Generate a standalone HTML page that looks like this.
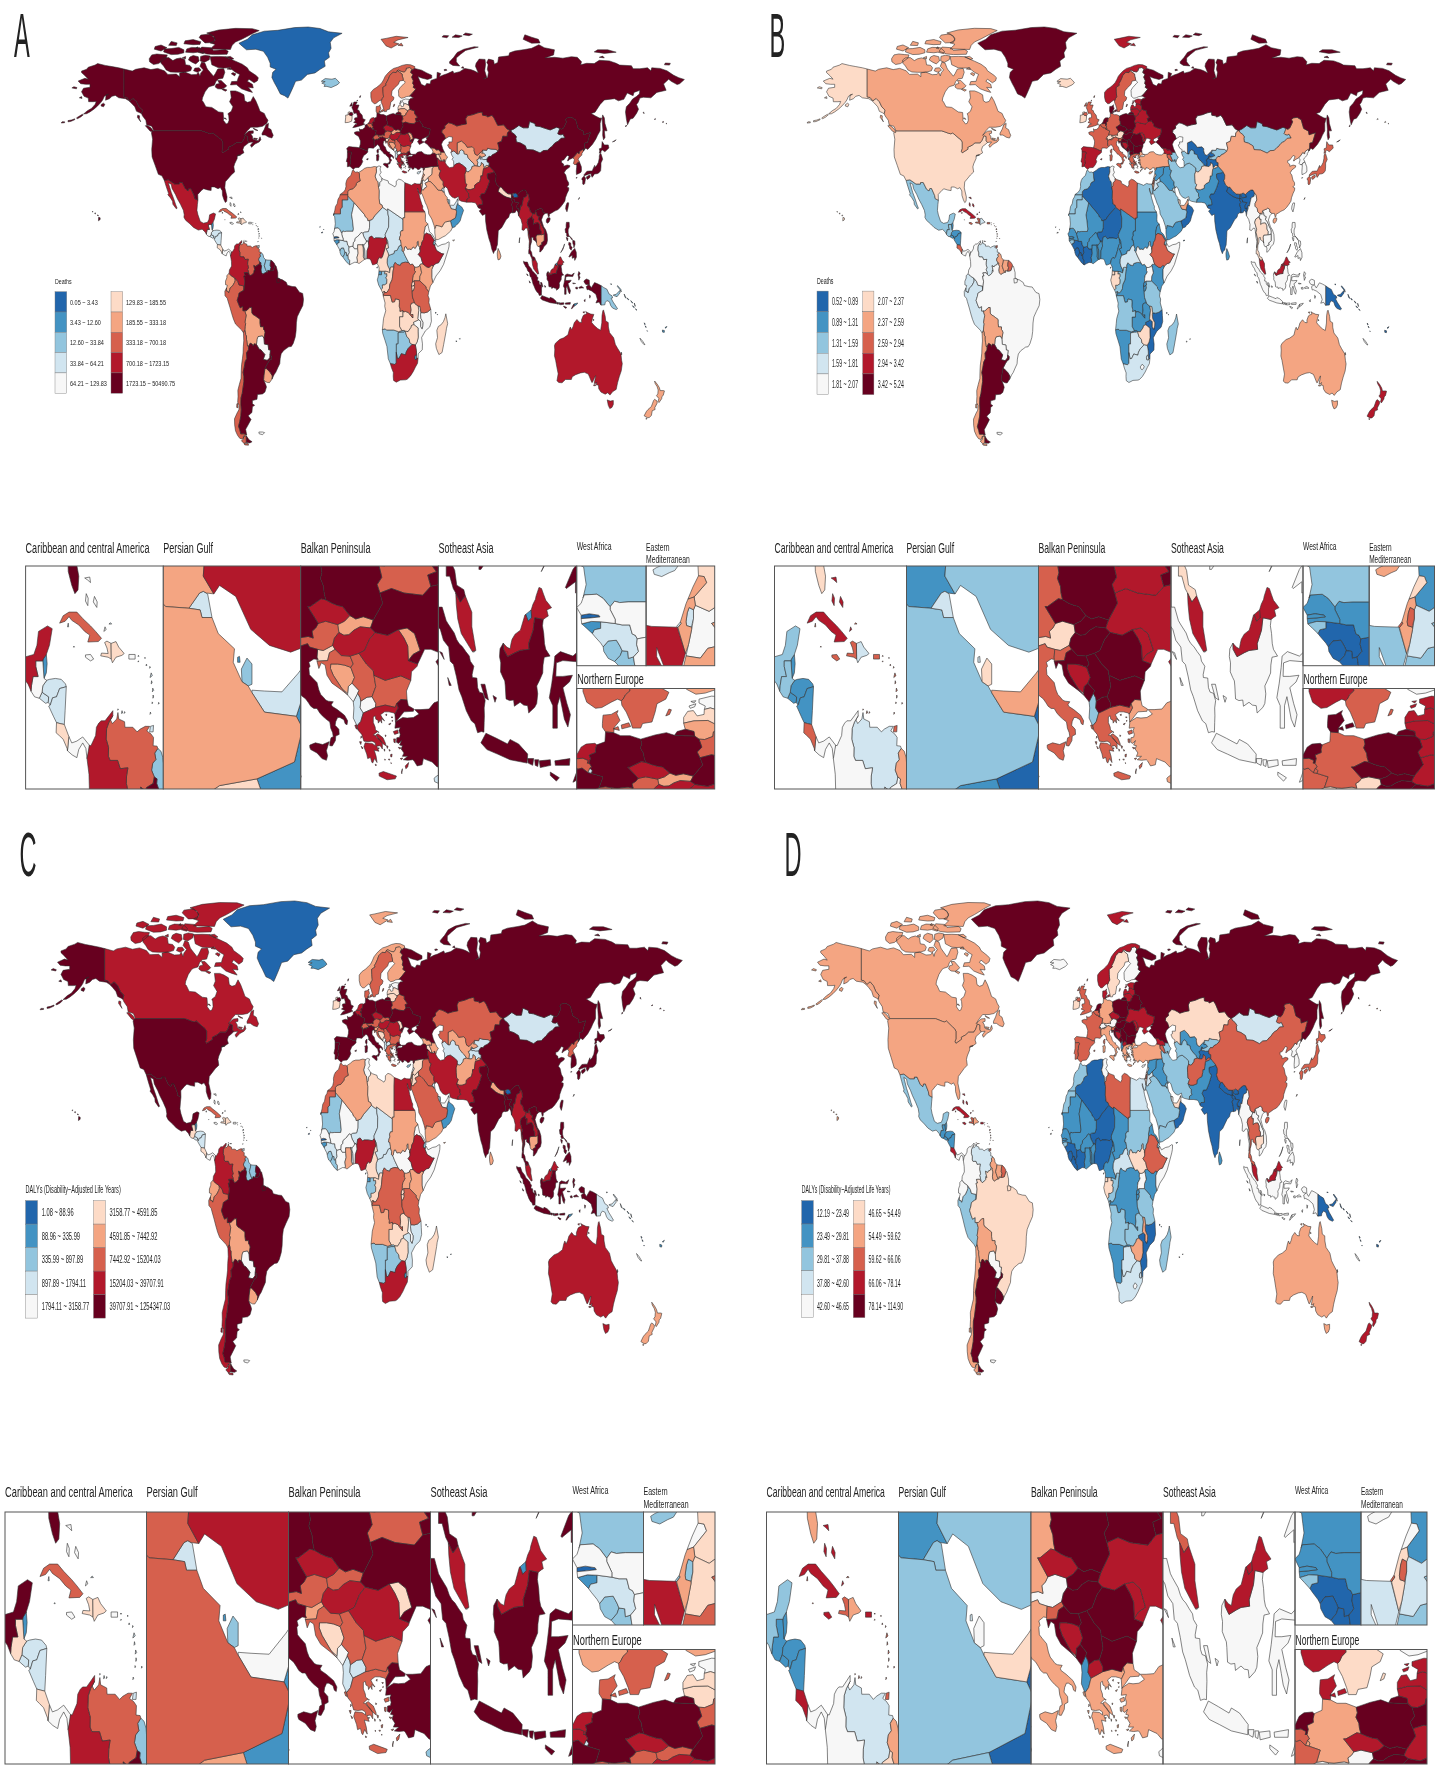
<!DOCTYPE html>
<html lang="en"><head><meta charset="utf-8"><title>Global maps</title>
<style>html,body{margin:0;padding:0;background:#fff;overflow:hidden}svg{display:block;filter:blur(0.45px)}text{font-family:"Liberation Sans",sans-serif;fill:#222}.c path{vector-effect:non-scaling-stroke}</style></head><body>
<svg width="1440" height="1772" viewBox="0 0 1440 1772">
<defs class="c">
<path id="c0" vector-effect="non-scaling-stroke" d="M-141,-69.6 -136,-68.9 -134,-69.5 -129,-70 -125,-69.4 -121,-69.8 -117,-69 -115,-67.8 -110,-67.9 -108,-67 -108,-68.3 -105,-68.6 -101,-67.7 -98,-67.8 -97,-68.5 -96,-67.3 -95.5,-68.3 -94,-69.3 -96,-70.5 -95,-71.9 -93,-71.5 -92,-70 -91.5,-69.5 -90,-68.5 -88,-67.2 -87,-68 -85.5,-69.6 -82,-69.8 -81.3,-68.5 -82.5,-66.5 -85,-66.3 -86.5,-65.5 -87.5,-64.2 -90,-63.8 -91,-63.5 -93,-62 -94.5,-60 -94.8,-59 -94.2,-58.8 -92.5,-57 -89,-56.8 -85,-55.3 -82.3,-55.1 -82,-53 -82.2,-52.5 -80.5,-51.3 -79.5,-51.5 -78.8,-52.5 -79,-54 -79.5,-54.7 -77.5,-55.5 -76.5,-57 -78.5,-58.7 -77.5,-60 -78,-62.3 -75,-62.3 -72.5,-61.8 -70,-61 -69.5,-59 -68,-58.5 -66,-58.8 -64.5,-60.4 -63,-59 -61.5,-57 -60.5,-55.5 -58,-54.8 -57,-53.5 -55.8,-52.5 -56.5,-51.5 -59,-50.5 -62,-50.2 -66,-50.2 -68,-49 -70,-47.5 -68,-48.5 -67,-48.9 -64.5,-49 -64.5,-48.2 -66,-48 -65,-47.2 -64.8,-46.3 -63.5,-45.9 -61.5,-45.7 -60.5,-47 -60,-46 -61,-45.3 -63.5,-44.6 -65.5,-43.5 -66.2,-44.2 -64.5,-45.3 -66,-45.2 -67,-45.1 -67.8,-45.7 -67.8,-47.1 -69.2,-47.4 -70.3,-45.9 -71.5,-45 -74.7,-45 -76.5,-44.2 -79.2,-43.5 -79,-42.9 -82.5,-41.7 -83.1,-42.2 -82.5,-43 -82.5,-45.3 -83.5,-46.1 -84.5,-46.5 -88.4,-48.3 -89.5,-48 -91,-48.2 -93,-48.6 -95.15,-49 -123.3,-49 -124.5,-50.5 -127.5,-51 -128,-52.5 -130,-54 -130.5,-54.7 -130,-55.9 -132,-57 -133.5,-58.7 -135.5,-59.8 -137.5,-59 -139.2,-60.1 -141,-60.3ZM-123.5,-48.4 -125.5,-48.9 -128.3,-50.7 -127,-50.8 -125,-50 -123.5,-48.9ZM-131,-52 -133,-53.5 -132.8,-54.2 -131.7,-54 -131.8,-53ZM-59.3,-47.6 -57.5,-47.6 -55.5,-46.9 -53.5,-46.6 -52.7,-47.5 -53.5,-48.5 -54,-49.4 -55.8,-50 -55.5,-51.5 -57,-51 -58,-49.5 -59.3,-48.2ZM-64.3,-46.6 -62,-46.4 -62.5,-46 -64,-46.2ZM-64.5,-49.9 -61.7,-49.1 -63,-49.2 -64.4,-49.7ZM-65,-61.8 -68,-62.3 -71.5,-63 -74.5,-64.4 -78,-64.3 -77.3,-65.4 -74,-65.5 -73.5,-66.5 -72.5,-67.8 -75,-68.5 -78.5,-70 -82,-69.9 -85,-70 -89,-71 -90,-73.7 -85,-73.8 -81,-73.7 -78,-72.9 -75,-72.2 -71,-71.2 -68,-70 -67,-69 -63,-67.5 -61.5,-66.7 -62,-65.7 -64,-65 -67,-66.2 -68,-65.5 -65,-64.5 -64.5,-63.3 -67.5,-63.5 -65.5,-62.2ZM-87,-63.6 -85.5,-63 -83,-62.9 -81,-63.5 -80.2,-64 -83.5,-65.8 -85.5,-65.8 -84.5,-64.8 -86.5,-64.5ZM-119,-71.5 -117.5,-70.6 -116,-69.3 -113.5,-68.6 -110,-68.5 -105,-68.5 -101.5,-69 -100.8,-70 -102,-70.8 -104.5,-71 -105,-72.8 -107.5,-73.3 -110,-73 -112,-72.4 -114.5,-73.4 -117.5,-73.3 -119.2,-72.6ZM-125.8,-72 -123.5,-71.1 -120.5,-71.4 -118.5,-72.2 -116,-73.2 -115.3,-74.3 -118,-74.4 -121.5,-74.6 -124.5,-74.3 -126,-73ZM-102.8,-72.6 -100.5,-71.8 -98.5,-71.3 -96.5,-72.3 -97,-73.7 -100,-74.1 -102,-73.6ZM-95.8,-72.3 -93.5,-71.8 -90.5,-72.7 -90,-73.9 -93,-74.2 -95.6,-73.8ZM-99.8,-69 -97.5,-68.5 -95.3,-69.2 -96.5,-70 -99,-69.9ZM-117.5,-75.3 -113,-74.4 -109,-74.5 -105.5,-75 -105.5,-76 -108.5,-76.8 -113,-76.4 -117,-76.3ZM-104.5,-75.2 -100,-75 -97.5,-75.2 -94,-74.7 -93.5,-75.5 -96,-76.7 -101,-76.8 -103.8,-76.3ZM-123,-76.2 -119,-75.6 -115.5,-76.7 -119,-77.6 -122.5,-77.1ZM-114.5,-77.5 -110,-77.4 -109.5,-78.3 -113,-78.8ZM-105.5,-78 -100,-77.7 -96,-77.8 -95.5,-78.7 -100,-79.4 -104.8,-79ZM-96.8,-75.5 -92,-74.6 -88,-74.4 -80,-74.5 -79.3,-75.5 -81,-76.1 -88,-75.8 -89.5,-76.7 -95,-76.9ZM-90,-76.3 -84,-76.2 -78,-76.1 -77,-77.5 -75,-78.6 -71,-79.6 -64.5,-81.5 -61,-82.4 -65,-83.05 -75,-83.15 -85,-82.6 -92,-81.6 -88,-80.6 -87,-79.2 -90,-78.3 -87,-77.8ZM-96.5,-80.1 -93,-78.3 -88,-78.4 -87,-79.8 -90,-81.3 -95.5,-80.9ZM-106.5,-73.3 -104.5,-73 -104.5,-73.8ZM-80,-69.6 -77.5,-69.4 -78,-70.1ZM-98.5,-76.5 -97,-76.3 -97.5,-77ZM-81,-73.6 -77.5,-72.8 -76,-73 -78,-73.8ZM-77.5,-68 -75.5,-67.3 -74.8,-68 -76.5,-68.4ZM-83,-62.8 -81,-62.2 -80,-62.6 -82,-63ZM-81.8,-53.2 -80.3,-52.8 -81,-53.3Z"/>
<path id="c1" vector-effect="non-scaling-stroke" d="M-123.3,-49 -124.7,-48.4 -124,-46.2 -124.5,-42.8 -124.3,-40.3 -122.5,-37.5 -120.6,-34.5 -118.5,-34 -117.1,-32.5 -114.7,-32.7 -111,-31.3 -108.2,-31.3 -108.2,-31.8 -106.5,-31.8 -104.5,-29.6 -103,-29 -102.5,-29.8 -101.4,-29.8 -99.5,-27.5 -99.1,-26.4 -97.2,-25.9 -97.3,-27.8 -95,-29.2 -93.8,-29.7 -91.5,-29.3 -89.4,-29.1 -89.3,-30.3 -87.5,-30.3 -85.3,-29.7 -84,-30.1 -82.8,-29 -82.7,-27.5 -81.8,-26 -81,-25.1 -80.2,-25.5 -80,-27 -81.3,-30 -81,-32 -79,-33.3 -77.5,-34.3 -75.5,-35.3 -76,-37 -75.5,-38 -74,-39.8 -74,-40.6 -72,-41 -70,-41.7 -70.7,-42.7 -70,-43.8 -68.5,-44.4 -67,-45.1 -67.8,-45.7 -67.8,-47.1 -69.2,-47.4 -70.3,-45.9 -71.5,-45 -74.7,-45 -76.5,-44.2 -79.2,-43.5 -79,-42.9 -82.5,-41.7 -83.1,-42.2 -82.5,-43 -82.5,-45.3 -83.5,-46.1 -84.5,-46.5 -88.4,-48.3 -89.5,-48 -91,-48.2 -93,-48.6 -95.15,-49ZM-141,-69.6 -141,-60.3 -139.2,-60.1 -137.5,-59 -135.5,-59.8 -133.5,-58.7 -132,-57 -130,-55.9 -130.5,-54.7 -131.5,-55 -133.5,-55.5 -134.5,-57 -136.5,-58.2 -138,-59 -140,-59.7 -144,-60 -146,-60.8 -148,-60.5 -149.5,-59.7 -151.8,-59.2 -151.5,-61 -150,-61.2 -152.5,-60.5 -153.5,-59.3 -154.5,-58.5 -156.5,-57.3 -158.5,-56.3 -161,-55.3 -163,-54.7 -164.8,-54.6 -162.5,-55.7 -160,-56.5 -158,-57.8 -157.3,-58.8 -159,-58.7 -161.8,-58.7 -162,-59.9 -164.5,-60.5 -165.5,-61.5 -166,-62 -164.8,-63.2 -161,-63.5 -161,-64.5 -163.5,-64.5 -166.5,-64.7 -168,-65.6 -164,-66.5 -162,-66.2 -163.8,-67.3 -166,-68.4 -166,-68.9 -163,-69.5 -162,-70.2 -158,-70.9 -156.5,-71.4 -152,-70.8 -148,-70.4 -144,-70ZM-154.5,-57.3 -153,-57 -152.2,-57.8 -153,-58.2 -154.3,-57.8ZM-165,-54.3 -166.5,-53.6 -168.5,-53 -169,-53.3 -167,-54 -165.5,-54.5ZM-170,-52.7 -172.5,-52.1 -174,-52 -174,-52.4 -172,-52.6 -170,-53ZM-176,-51.7 -178,-51.6 -177.5,-52 -176,-52ZM-171.7,-63.3 -169,-63 -168.7,-63.4 -170.5,-63.7ZM-167.3,-60 -165.7,-59.8 -166,-60.4ZM-156,-19 -155,-19.4 -155,-20 -155.9,-20.2ZM-156.7,-20.8 -156,-20.7 -156.3,-21ZM-158.2,-21.4 -157.7,-21.3 -157.9,-21.7ZM-159.7,-22 -159.3,-21.9 -159.4,-22.2ZM172.5,-52.8 173.4,-52.9 173,-53.05ZM177.2,-51.85 178.2,-51.9 177.7,-52.1ZM179.5,-51.3 180,-51.4 179.6,-51.5ZM-74,-40.6 -72,-40.9 -72,-41.1 -73.7,-40.9Z"/>
<path id="c2" vector-effect="non-scaling-stroke" d="M-117.1,-32.5 -116,-30.5 -114.5,-28 -115,-27.7 -113.5,-26.7 -112.2,-25.5 -112,-24.5 -110,-23 -109.5,-23.2 -110.3,-24.3 -111.5,-26.3 -113,-28.5 -114.7,-31.7 -113,-31.2 -112.5,-29.8 -110.5,-27.8 -109.3,-26.3 -107.5,-24.5 -105.8,-22.5 -105.3,-21 -105.5,-20.2 -104.5,-19.2 -102,-18 -99.8,-16.8 -97,-15.9 -94.7,-16.2 -93,-15.3 -92.2,-14.5 -92.1,-15.1 -91.7,-16.1 -90.4,-16.1 -91,-17.2 -91,-17.8 -89.2,-17.8 -89.1,-18 -88.3,-18.5 -87.5,-19.5 -86.8,-21.3 -88,-21.6 -90.3,-21 -90.7,-19.5 -91.5,-18.5 -94,-18.2 -95.8,-18.8 -97.2,-21 -97.8,-22.5 -97.5,-24.5 -97.2,-25.9 -99.1,-26.4 -99.5,-27.5 -101.4,-29.8 -102.5,-29.8 -103,-29 -104.5,-29.6 -106.5,-31.8 -108.2,-31.8 -108.2,-31.3 -111,-31.3 -114.7,-32.7Z"/>
<path id="c3" vector-effect="non-scaling-stroke" d="M-92.2,-14.5 -91.3,-13.9 -90.1,-13.75 -89.4,-14.4 -89.2,-15.1 -88.2,-15.7 -88.9,-15.9 -89.2,-17.8 -91,-17.8 -91,-17.2 -90.4,-16.1 -91.7,-16.1 -92.1,-15.1Z"/>
<path id="c4" vector-effect="non-scaling-stroke" d="M-89.2,-17.8 -88.9,-15.9 -88.3,-16.5 -88.1,-17.5 -88.3,-18.5 -89.1,-18Z"/>
<path id="c5" vector-effect="non-scaling-stroke" d="M-90.1,-13.75 -88.5,-13.2 -87.8,-13.3 -87.7,-13.9 -89.4,-14.4Z"/>
<path id="c6" vector-effect="non-scaling-stroke" d="M-89.4,-14.4 -87.7,-13.9 -87.8,-13.3 -87.3,-13 -86.7,-13.8 -85.7,-13.9 -84.9,-14.8 -83.2,-15 -83.4,-15.3 -84.5,-15.8 -86,-15.9 -87.5,-15.8 -88.2,-15.7 -89.2,-15.1Z"/>
<path id="c7" vector-effect="non-scaling-stroke" d="M-87.3,-13 -87.7,-12.9 -86.5,-11.8 -85.7,-11.1 -84.8,-11 -83.7,-10.9 -83.5,-12.4 -83.2,-15 -84.9,-14.8 -85.7,-13.9 -86.7,-13.8Z"/>
<path id="c8" vector-effect="non-scaling-stroke" d="M-85.7,-11.1 -85.8,-10 -85,-9.7 -84,-9.3 -83,-8.3 -82.9,-8.05 -82.55,-9.6 -83.7,-10.9 -84.8,-11Z"/>
<path id="c9" vector-effect="non-scaling-stroke" d="M-82.9,-8.05 -81.7,-7.6 -80.5,-7.3 -80,-8.2 -79,-8.9 -78.2,-8.3 -77.9,-7.2 -77.3,-8 -77.3,-8.65 -79,-9.55 -80.5,-9.1 -81.8,-8.9 -82.55,-9.6Z"/>
<path id="c10" vector-effect="non-scaling-stroke" d="M-84.9,-21.9 -84,-22.7 -82.5,-23.1 -80.5,-23.1 -79,-22.4 -77,-21.6 -75.7,-21 -74.2,-20.25 -75,-19.9 -77.7,-19.85 -77.2,-20.6 -78.5,-21 -80,-21.7 -81.8,-22.2 -82.5,-22.6 -83.5,-22.1Z"/>
<path id="c11" vector-effect="non-scaling-stroke" d="M-71.75,-19.7 -71.7,-18 -72.5,-18.2 -74.4,-18.35 -74.2,-18.65 -72.5,-18.6 -72.8,-19.2 -73.4,-19.8 -72.8,-19.95Z"/>
<path id="c12" vector-effect="non-scaling-stroke" d="M-71.75,-19.7 -70.5,-19.9 -69.8,-19.3 -68.4,-18.6 -69,-18.4 -70.5,-18.2 -71.4,-17.6 -71.7,-18Z"/>
<path id="c13" vector-effect="non-scaling-stroke" d="M-78.3,-18.2 -77,-17.8 -76.2,-18 -77,-18.5 -78.3,-18.45Z"/>
<path id="c14" vector-effect="non-scaling-stroke" d="M-67.2,-18 -65.6,-18 -65.6,-18.5 -67.2,-18.5Z"/>
<path id="c15" vector-effect="non-scaling-stroke" d="M-78.3,-24.3 -77.7,-23.8 -77.6,-24.6 -78.1,-25.1ZM-77.8,-26.6 -77,-26.3 -77.2,-26.9 -78.5,-26.8ZM-76.3,-24.2 -75.4,-23.6 -75.3,-24.2 -76,-24.8ZM-73.6,-21 -73,-21.2 -73.3,-21.5Z"/>
<path id="c16" vector-effect="non-scaling-stroke" d="M-61.9,-10.1 -61,-10.1 -60.9,-10.8 -61.7,-10.7Z"/>
<path id="c17" vector-effect="non-scaling-stroke" d="M-73,-78.2 -68,-79.5 -65,-81 -58,-82.2 -50,-82.5 -40,-83.4 -32,-83.6 -25,-83.1 -20,-82 -12,-81.5 -17,-80 -19,-78.5 -18.5,-76.5 -20,-75 -19.5,-73.5 -22.5,-72.3 -22,-70.5 -25,-69.5 -28,-68.3 -32.5,-67.8 -36,-65.9 -39.5,-65.5 -41,-63.5 -42.8,-61.3 -44,-59.9 -46,-60.7 -48.5,-61.3 -50.5,-63.5 -52,-65 -53.5,-66.8 -53,-68.5 -51,-69.5 -54.5,-70.3 -54.5,-71.5 -56,-73.5 -58.5,-75.5 -63,-76.2 -68.5,-76 -71,-77.2Z"/>
<path id="c18" vector-effect="non-scaling-stroke" d="M-24.3,-65.5 -22,-66.4 -18,-66.2 -16,-66.5 -14.5,-65.7 -13.5,-65 -15,-64.3 -18.5,-63.4 -21,-63.8 -22.7,-63.8 -22,-64.4 -24,-64.9 -22,-65.4Z"/>
<path id="c19" vector-effect="non-scaling-stroke" d="M-77.3,-8.65 -77.9,-7.2 -77.4,-5.5 -77.3,-3.9 -78.6,-2.6 -78.8,-1.45 -77.5,-0.65 -75.3,0.1 -73.6,1.25 -72.9,2.4 -70.1,2.7 -70,4.2 -69.4,1.1 -70.05,-0.6 -69.1,-0.65 -69.85,-1.7 -67.9,-1.75 -67.1,-1.2 -67.4,-2.2 -67.85,-2.8 -67.3,-3.4 -67.85,-4.5 -67.8,-5.3 -67.45,-6.2 -69.4,-6.1 -70.1,-7 -72,-7 -72.45,-7.45 -72.4,-8.4 -73,-9.3 -72.9,-10.45 -72.3,-11.15 -71.3,-11.85 -71.3,-12.4 -72.2,-11.9 -73.3,-11.3 -74.3,-11.3 -74.9,-11.05 -75.5,-10.6 -75.7,-9.7 -76.9,-8.6Z"/>
<path id="c20" vector-effect="non-scaling-stroke" d="M-71.3,-11.85 -72.3,-11.15 -72.9,-10.45 -73,-9.3 -72.4,-8.4 -72.45,-7.45 -72,-7 -70.1,-7 -69.4,-6.1 -67.45,-6.2 -67.8,-5.3 -67.85,-4.5 -67.3,-3.4 -67.85,-2.8 -67.4,-2.2 -67.1,-1.2 -66.3,-0.75 -65.5,-0.95 -64.1,-1.65 -64,-2.5 -63.4,-2.2 -64.2,-4.1 -62.9,-3.7 -62.7,-4.05 -61,-4.5 -60.7,-5.2 -61.4,-5.95 -61.1,-6.7 -60.3,-7.1 -60.6,-7.8 -59.8,-8.3 -60,-8.55 -61,-8.6 -60.9,-9.5 -61.6,-9.9 -62.6,-10.2 -61.9,-10.7 -63,-10.7 -64.3,-10.4 -65.1,-10.1 -66.2,-10.6 -68.2,-10.6 -68.3,-11.2 -69.8,-11.5 -70,-12.2 -70.3,-11.5 -71.4,-11 -71.9,-11.4Z"/>
<path id="c21" vector-effect="non-scaling-stroke" d="M-61.4,-5.95 -61.1,-6.7 -60.3,-7.1 -60.6,-7.8 -59.8,-8.3 -59,-8 -58.5,-7.3 -58.4,-6.8 -57.2,-6 -57.3,-5.3 -58,-4 -57.6,-3.4 -57.2,-2.8 -56.5,-1.9 -58,-1.5 -58.8,-1.2 -59.7,-1.8 -59.95,-2.6 -59.6,-3.9 -60.1,-4.5 -60,-5 -60.7,-5.2Z"/>
<path id="c22" vector-effect="non-scaling-stroke" d="M-57.2,-6 -55.9,-5.9 -54,-5.85 -54.4,-5 -54.5,-4 -54,-3.5 -54.6,-2.3 -55.9,-2.5 -56,-1.85 -56.5,-1.9 -57.2,-2.8 -57.6,-3.4 -58,-4 -57.3,-5.3Z"/>
<path id="c23" vector-effect="non-scaling-stroke" d="M-54,-5.85 -52.9,-5.4 -51.8,-4.6 -51.65,-4.1 -52.6,-2.5 -53.8,-2.3 -54.6,-2.3 -54,-3.5 -54.5,-4 -54.4,-5Z"/>
<path id="c24" vector-effect="non-scaling-stroke" d="M-78.8,-1.45 -77.5,-0.65 -75.3,0.1 -75.2,1 -75.6,1.55 -76.6,2.6 -78.2,3.4 -78.4,4 -79,5 -79.5,4.5 -80.4,4.45 -80.3,3.4 -79.8,2.5 -80.9,2.3 -80.9,1.1 -80.1,0 -80.1,-0.8Z"/>
<path id="c25" vector-effect="non-scaling-stroke" d="M-80.3,3.4 -80.4,4.45 -79.5,4.5 -79,5 -78.4,4 -78.2,3.4 -76.6,2.6 -75.6,1.55 -75.2,1 -75.3,0.1 -73.6,1.25 -72.9,2.4 -70.1,2.7 -70,4.2 -70.9,4.4 -72.9,5.1 -73.2,6.1 -73.7,6.9 -74,7.5 -73,9 -72.2,10 -70.6,9.5 -70.6,11 -69.6,10.95 -68.7,12.5 -69,13.5 -69.4,14.8 -69,15.3 -69.3,16.2 -69.5,17.5 -70.3,18.35 -71.4,17.4 -75,15.4 -76.2,13.8 -77.2,12 -78.2,10 -79.4,7.8 -79.9,6.8 -81.2,6 -81.3,4.5Z"/>
<path id="c26" vector-effect="non-scaling-stroke" d="M-51.65,-4.1 -51,-3.9 -50,-1.8 -50,0 -48.5,0.5 -47.5,0.6 -45,1.5 -44.3,2.5 -41.5,2.9 -39.5,3 -37.2,4.8 -35.3,5.2 -34.8,7.2 -35.2,9.2 -37,11.2 -38.5,13 -39,15 -39.2,17.8 -39.7,19.8 -40.9,21.9 -42,22.9 -43.5,23 -45,23.6 -46.5,24.2 -48,25.3 -48.6,27 -48.8,28.6 -50,30 -51.2,31.5 -52.2,32.3 -53.4,33.75 -53.2,32.7 -54.5,31.5 -55.6,30.9 -56.8,30.2 -57.6,30.2 -55.9,28.4 -54.8,27.5 -53.8,27.15 -53.65,26.2 -54.6,25.6 -54.3,24.1 -55.4,24 -55.7,22.3 -57.9,22.1 -58.15,20.15 -57.5,18.2 -57.8,17.6 -58.4,17.2 -58.4,16.3 -60.2,16.3 -60.5,15.1 -60.5,13.8 -62,13.2 -63.5,12.6 -64.5,12.3 -65.3,11.7 -65.4,9.8 -66.6,9.9 -68,10.7 -68.7,11 -69.6,10.95 -70.6,11 -70.6,9.5 -72.2,10 -73,9 -74,7.5 -73.7,6.9 -73.2,6.1 -72.9,5.1 -70.9,4.4 -70,4.2 -69.4,1.1 -70.05,-0.6 -69.1,-0.65 -69.85,-1.7 -67.9,-1.75 -67.1,-1.2 -66.3,-0.75 -65.5,-0.95 -64.1,-1.65 -64,-2.5 -63.4,-2.2 -64.2,-4.1 -62.9,-3.7 -62.7,-4.05 -61,-4.5 -60.7,-5.2 -60,-5 -60.1,-4.5 -59.6,-3.9 -59.95,-2.6 -59.7,-1.8 -58.8,-1.2 -58,-1.5 -56.5,-1.9 -56,-1.85 -55.9,-2.5 -54.6,-2.3 -53.8,-2.3 -52.6,-2.5ZM-50.8,0.2 -49.5,0.2 -48.5,0.4 -48.8,1.5 -50.5,1.7Z"/>
<path id="c27" vector-effect="non-scaling-stroke" d="M-69.6,10.95 -68.7,11 -68,10.7 -66.6,9.9 -65.4,9.8 -65.3,11.7 -64.5,12.3 -63.5,12.6 -62,13.2 -60.5,13.8 -60.5,15.1 -60.2,16.3 -58.4,16.3 -58.4,17.2 -57.8,17.6 -57.5,18.2 -58.15,20.15 -59.1,19.3 -61.7,19.6 -62.3,20.5 -62.6,22.2 -64,22 -64.4,22.8 -65.2,22.1 -66.3,21.8 -67.2,22.8 -67.9,22.8 -68.2,21.5 -68.5,20.5 -68.5,19.4 -69,19 -69.1,18.2 -69.5,17.5 -69.3,16.2 -69,15.3 -69.4,14.8 -69,13.5 -68.7,12.5Z"/>
<path id="c28" vector-effect="non-scaling-stroke" d="M-62.6,22.2 -62.3,20.5 -61.7,19.6 -59.1,19.3 -58.15,20.15 -57.9,22.1 -55.7,22.3 -55.4,24 -54.3,24.1 -54.6,25.6 -54.7,26.6 -55.8,27.4 -56.4,27.5 -58.6,27.2 -57.6,25.6 -58.8,24.8 -60,24 -61,23.8Z"/>
<path id="c29" vector-effect="non-scaling-stroke" d="M-57.6,30.2 -56.8,30.2 -55.6,30.9 -54.5,31.5 -53.2,32.7 -53.4,33.75 -54.9,34.95 -56.2,34.9 -57.8,34.45 -58.4,34 -58.2,32.5Z"/>
<path id="c30" vector-effect="non-scaling-stroke" d="M-67.2,22.8 -66.3,21.8 -65.2,22.1 -64.4,22.8 -64,22 -62.6,22.2 -61,23.8 -60,24 -58.8,24.8 -57.6,25.6 -58.6,27.2 -56.4,27.5 -55.8,27.4 -54.7,26.6 -54.6,25.6 -53.65,26.2 -53.8,27.15 -54.8,27.5 -55.9,28.4 -57.6,30.2 -58.2,32.5 -58.4,34 -57.2,35.5 -56.7,36.4 -57.6,38.1 -59,38.7 -62,38.9 -62.3,40.5 -65,40.9 -65,42 -63.7,42.5 -65,43 -65.3,44.9 -67.5,46 -65.8,47.2 -67.5,49 -69,50.5 -68.4,52.3 -70,52 -71.9,52 -72.4,50.7 -73.2,49.5 -72.5,48 -71.8,46 -71.6,44 -71.8,42 -71.7,40 -71,38.5 -70.5,36.5 -70,34.5 -70,33 -70.5,31.5 -69.9,30 -69.3,28 -68.3,26.9 -68.5,25 -67.3,24ZM-68.6,52.65 -68.6,54.9 -66.5,55.05 -65.2,54.65 -67,54 -68.2,53Z"/>
<path id="c31" vector-effect="non-scaling-stroke" d="M-69.5,17.5 -69.1,18.2 -69,19 -68.5,19.4 -68.5,20.5 -68.2,21.5 -67.9,22.8 -67.2,22.8 -67.3,24 -68.5,25 -68.3,26.9 -69.3,28 -69.9,30 -70.5,31.5 -70,33 -70,34.5 -70.5,36.5 -71,38.5 -71.7,40 -71.8,42 -71.6,44 -71.8,46 -72.5,48 -73.2,49.5 -72.4,50.7 -71.9,52 -70,52 -68.4,52.3 -69.5,52.5 -70.9,53.8 -72.5,53.5 -73.8,52.5 -75,51 -75.5,49 -75.6,47 -74,45 -73,44 -72.8,42.5 -73.7,41.5 -73.5,39.5 -73.6,37.5 -72.7,35.5 -71.7,33.5 -71.6,31 -71.4,29 -70.9,27 -70.5,25 -70.4,23 -70.1,21 -70.3,18.35ZM-68.6,52.65 -70.4,52.8 -70.2,53.8 -71.5,54.3 -70,55.2 -68.6,54.9ZM-70,55.3 -67.5,55.2 -67.3,55.8 -69.5,55.7ZM-74.2,42 -73.5,41.9 -73.5,43.3 -74.3,43.2Z"/>
<path id="c32" vector-effect="non-scaling-stroke" d="M-61.2,51.4 -59,51.4 -57.8,51.6 -59,52.3 -61,52Z"/>
<path id="c33" vector-effect="non-scaling-stroke" d="M11.1,-59 10.5,-59.2 9.5,-58.8 8,-58.1 7,-58 5.6,-58.8 5,-60.2 5,-61.8 6.5,-62.8 8.5,-63.5 10,-64.2 11.5,-65 12.5,-66 13.5,-67.2 15,-68.2 16.5,-69 18.5,-69.8 21,-70.2 23.5,-70.8 26,-71.1 28.5,-71 31,-70.4 30.9,-69.8 28.9,-69.05 29.3,-69.5 28,-70.1 26,-69.9 25.7,-69.2 24.8,-68.6 23,-68.8 21.2,-69.3 20.6,-69.05 20,-68.4 18.1,-68.5 16.2,-67.5 15.4,-66.3 14.5,-65.3 13.7,-64.6 14.1,-64.2 12.1,-63.5 12.2,-62 12.3,-61.3 12.5,-60.3 11.8,-59.8 11.4,-59.2ZM11,-79.5 14,-77.3 17,-76.6 21.5,-78 18.5,-78.5 21,-79.3 27,-80.1 20,-80.5 14,-79.8ZM21,-77.5 24,-77.3 23,-78.2Z"/>
<path id="c34" vector-effect="non-scaling-stroke" d="M11.1,-59 11.4,-59.2 11.8,-59.8 12.5,-60.3 12.3,-61.3 12.2,-62 12.1,-63.5 14.1,-64.2 13.7,-64.6 14.5,-65.3 15.4,-66.3 16.2,-67.5 18.1,-68.5 20,-68.4 20.6,-69.05 22,-68.5 23.5,-67.9 23.6,-67.2 24,-66.5 24.15,-65.8 22,-65.6 21.3,-64.5 19,-63.3 17.5,-62.3 17.2,-60.8 18.7,-60.1 18.2,-59.2 16.8,-58.6 16.5,-57.5 16,-56.2 14.5,-56 14.2,-55.4 12.9,-55.4 12.6,-56.2 11.9,-57.5 11.2,-58.4ZM18.2,-57 18.7,-57.9 19.1,-57.8 18.8,-57.2Z"/>
<path id="c35" vector-effect="non-scaling-stroke" d="M20.6,-69.05 21.2,-69.3 23,-68.8 24.8,-68.6 25.7,-69.2 26,-69.9 28,-70.1 29.3,-69.5 28.9,-69.05 28.5,-68.5 29.9,-67.7 29.1,-66.9 30.1,-65.7 29.7,-64.8 30.5,-64.2 30,-63.5 31.6,-62.9 29.5,-61.5 27.8,-60.55 26,-60.4 24.5,-60 23,-59.85 21.5,-60.5 21.4,-61.5 21.3,-62.5 22.3,-63.4 24.5,-64.7 25.4,-65.2 24.15,-65.8 24,-66.5 23.6,-67.2 23.5,-67.9 22,-68.5Z"/>
<path id="c36" vector-effect="non-scaling-stroke" d="M8.6,-54.9 9.9,-54.8 10,-55.5 10.9,-56.4 10.4,-57.3 10.6,-57.7 9.5,-57.2 8.2,-57.1 8.1,-56 8.1,-55.5ZM11.2,-55.3 12.6,-55.6 12.3,-56.1 11.1,-55.8ZM9.8,-55.3 10.8,-55.1 10.6,-55.6Z"/>
<path id="c37" vector-effect="non-scaling-stroke" d="M-5.7,-50.05 -3.5,-50.3 -1,-50.7 1.4,-51.2 0.5,-51.5 1.7,-52.7 0.3,-53 -0.2,-54.3 -1.5,-55 -2,-55.8 -3,-56 -2,-57.6 -4,-57.6 -3.1,-58.6 -5,-58.6 -5.8,-57.5 -6.2,-56.7 -5.5,-55.9 -5,-54.8 -3.5,-54.9 -3,-54 -3,-53.4 -4.5,-53.3 -4.7,-52.8 -4.1,-52.3 -5.2,-51.8 -3.2,-51.4 -3.2,-51.2 -4.3,-51.1ZM-8.1,-54.5 -7.3,-55.05 -6.1,-55.2 -5.5,-54.5 -6.1,-54.05 -7.3,-54.15ZM-7.5,-57.2 -6.2,-58.4 -6.2,-57.3ZM-1.5,-60 -1,-60.7 -1.5,-60.6ZM-3.3,-58.9 -2.7,-59.1 -3.1,-59.2Z"/>
<path id="c38" vector-effect="non-scaling-stroke" d="M-6.1,-54.05 -6.1,-53.2 -6.4,-52.2 -8.3,-51.8 -10.2,-51.7 -9.9,-53.4 -9.9,-54.2 -8.5,-54.3 -8.4,-55.2 -7.3,-55.35 -7.3,-55.05 -8.1,-54.5 -7.3,-54.15Z"/>
<path id="c39" vector-effect="non-scaling-stroke" d="M-1.8,-43.35 -1.2,-44.6 -1.1,-45.6 -2.2,-47.1 -4.5,-47.9 -4.7,-48.5 -3,-48.8 -1.6,-48.65 -1.8,-49.7 -1.1,-49.4 0.2,-49.5 1.6,-50.2 1.6,-50.9 2.55,-51.1 2.9,-50.7 4.2,-50 4.85,-50.15 5.8,-49.55 6.35,-49.45 8.2,-49 7.6,-47.6 6.9,-47.3 6.1,-46.55 6,-46.15 6.8,-46.4 7,-45.9 6.9,-45.1 7,-44.2 7.5,-43.8 6.6,-43.2 5,-43.3 3.5,-43.3 3.1,-42.45 1.7,-42.5 0.7,-42.8ZM8.6,-42.5 9.4,-43 9.5,-42 9.2,-41.4 8.6,-41.9Z"/>
<path id="c40" vector-effect="non-scaling-stroke" d="M-1.8,-43.35 0.7,-42.8 1.7,-42.5 3.1,-42.45 3.2,-41.9 2.1,-41.3 0.8,-40.8 -0.3,-39.5 0.2,-38.75 -0.7,-37.7 -2,-36.8 -4.4,-36.7 -5.3,-36.1 -6.3,-36.6 -7.4,-37.2 -7.5,-37.6 -6.95,-38.2 -7.3,-39.5 -6.9,-40.2 -6.8,-41 -6.2,-41.6 -6.6,-41.95 -8.2,-41.9 -8.85,-41.9 -8.9,-42.5 -9.3,-43.1 -8,-43.75 -5.8,-43.6 -3.5,-43.5ZM2.4,-39.5 3.4,-39.8 3.2,-39.3Z"/>
<path id="c41" vector-effect="non-scaling-stroke" d="M-8.85,-41.9 -8.2,-41.9 -6.6,-41.95 -6.2,-41.6 -6.8,-41 -6.9,-40.2 -7.3,-39.5 -6.95,-38.2 -7.5,-37.6 -7.4,-37.2 -8.9,-37 -8.8,-38.4 -9.5,-38.75 -8.9,-40.2Z"/>
<path id="c42" vector-effect="non-scaling-stroke" d="M2.55,-51.1 3.35,-51.4 4.3,-51.4 5,-51.45 5.85,-51.15 5.7,-50.8 6,-50.8 6.4,-50.3 6.1,-50.15 5.75,-49.55 4.85,-50.15 4.2,-50 2.9,-50.7Z"/>
<path id="c43" vector-effect="non-scaling-stroke" d="M3.35,-51.4 4.1,-52 4.7,-52.9 5.5,-53.3 6.9,-53.4 7.2,-53.2 7,-52.6 7.05,-52.2 6,-51.85 6.2,-51.4 6,-50.8 5.7,-50.8 5.85,-51.15 5,-51.45 4.3,-51.4Z"/>
<path id="c44" vector-effect="non-scaling-stroke" d="M5.75,-49.55 6.1,-50.15 6.5,-49.8 6.35,-49.45Z"/>
<path id="c45" vector-effect="non-scaling-stroke" d="M7.2,-53.2 8.5,-53.6 8.6,-54.9 9.9,-54.8 11,-54.4 12.5,-54.4 14.2,-53.95 14.4,-53.3 14.15,-52.8 14.65,-52.1 14.75,-51.5 15,-50.9 14.3,-51 12.5,-50.3 12.1,-50.3 13.8,-48.8 13.4,-48.4 12.8,-48.1 13,-47.5 12.2,-47.65 10.5,-47.5 9.6,-47.55 8.6,-47.7 7.6,-47.6 8.2,-49 6.35,-49.45 6.5,-49.8 6.1,-50.15 6.4,-50.3 6,-50.8 6.2,-51.4 6,-51.85 7.05,-52.2 7,-52.6Z"/>
<path id="c46" vector-effect="non-scaling-stroke" d="M6,-46.15 6.1,-46.55 6.9,-47.3 7.6,-47.6 8.6,-47.7 9.6,-47.55 9.5,-47.1 10.45,-46.9 10.1,-46.25 9.3,-46.4 9,-45.85 8.4,-46.3 7.9,-45.95 7,-45.9 6.8,-46.4Z"/>
<path id="c47" vector-effect="non-scaling-stroke" d="M9.6,-47.55 10.5,-47.5 12.2,-47.65 13,-47.5 12.8,-48.1 13.4,-48.4 13.8,-48.8 15,-49 16.9,-48.7 17.1,-48 16.4,-47.5 16.1,-46.85 14.6,-46.4 13.7,-46.5 12.4,-46.7 12.1,-47 11,-46.8 10.45,-46.9 9.5,-47.1Z"/>
<path id="c48" vector-effect="non-scaling-stroke" d="M7.5,-43.8 7,-44.2 6.9,-45.1 7,-45.9 7.9,-45.95 8.4,-46.3 9,-45.85 9.3,-46.4 10.1,-46.25 10.45,-46.9 11,-46.8 12.1,-47 12.4,-46.7 13.7,-46.5 13.6,-45.8 13.8,-45.6 13.1,-45.65 12.3,-45.35 12.5,-45 12.3,-44.85 12.4,-44.25 12.9,-43.95 13.6,-43.55 13.9,-42.9 14.2,-42.5 14.7,-42.2 15,-42 15.4,-41.9 16.2,-41.85 15.9,-41.6 16,-41.45 16.85,-41.15 17.2,-41 18,-40.65 18.5,-40.15 18.4,-39.8 18.1,-39.9 17.9,-40.25 17.25,-40.45 16.9,-40.45 16.6,-40.1 16.5,-39.75 17.1,-39.4 17.15,-38.95 16.6,-38.8 16.55,-38.4 16.05,-37.92 15.65,-37.95 15.65,-38.2 15.85,-38.65 16.2,-38.75 16.1,-39.1 15.8,-39.5 15.65,-40.05 14.95,-40.35 14.45,-40.6 14.05,-40.85 13.6,-41.25 13.1,-41.25 12.6,-41.45 12.25,-41.75 11.8,-42.1 11.1,-42.4 10.5,-42.95 10.3,-43.5 9.8,-44.05 8.9,-44.4 8.2,-44ZM12.45,-38 13.35,-38.2 14.5,-38.05 15.55,-38.3 15.1,-37.5 15.3,-37.05 15.1,-36.65 14.4,-36.8 13.6,-37.3 12.6,-37.6 12.45,-37.8ZM8.15,-40.95 8.4,-40.6 8.4,-39.9 8.4,-39.1 8.9,-38.9 9.1,-39.2 9.55,-39.15 9.65,-40 9.8,-40.5 9.55,-41.1 9.15,-41.25 8.6,-40.9ZM10.1,-42.8 10.4,-42.85 10.3,-42.7Z"/>
<path id="c49" vector-effect="non-scaling-stroke" d="M14.2,-53.95 16.5,-54.5 18.3,-54.8 19.6,-54.45 22.8,-54.35 23.5,-53.95 23.95,-52.9 23.2,-52.25 23.65,-51.5 24.1,-50.6 22.6,-49.1 21,-49.4 19.8,-49.2 18.85,-49.5 17.7,-50.3 16.9,-50.4 16,-50.6 15,-50.9 14.75,-51.5 14.65,-52.1 14.15,-52.8 14.4,-53.3Z"/>
<path id="c50" vector-effect="non-scaling-stroke" d="M12.1,-50.3 12.5,-50.3 14.3,-51 15,-50.9 16,-50.6 16.9,-50.4 17.7,-50.3 18.85,-49.5 18,-49 16.9,-48.7 15,-49 13.8,-48.8Z"/>
<path id="c51" vector-effect="non-scaling-stroke" d="M16.9,-48.7 18,-49 18.85,-49.5 19.8,-49.2 21,-49.4 22.6,-49.1 22.15,-48.4 20.5,-48.5 19.5,-48.2 18.7,-47.8 17.9,-47.75 17.1,-48Z"/>
<path id="c52" vector-effect="non-scaling-stroke" d="M16.1,-46.85 16.4,-47.5 17.1,-48 17.9,-47.75 18.7,-47.8 19.5,-48.2 20.5,-48.5 22.15,-48.4 22.9,-48 22,-47.4 21.2,-46.4 20.3,-46.15 18.9,-45.9 17.5,-45.95 16.5,-46.5Z"/>
<path id="c53" vector-effect="non-scaling-stroke" d="M13.7,-46.5 14.6,-46.4 16.1,-46.85 16.5,-46.5 15.6,-46.2 15.3,-45.5 13.6,-45.45 13.6,-45.8Z"/>
<path id="c54" vector-effect="non-scaling-stroke" d="M13.6,-45.45 15.3,-45.5 15.6,-46.2 16.5,-46.5 17.5,-45.95 18.9,-45.9 19.4,-45.2 19,-44.9 18,-45.1 16.9,-45.2 15.8,-45.2 15.75,-44.8 16.2,-44.2 17.6,-43 18.5,-42.45 17.5,-42.9 16,-43.5 15.2,-44.2 14.9,-45.1 14.3,-45.3 13.9,-44.8Z"/>
<path id="c55" vector-effect="non-scaling-stroke" d="M15.8,-45.2 16.9,-45.2 18,-45.1 19,-44.9 19.6,-44 19.2,-43.5 18.6,-43.2 18.5,-42.6 17.6,-43 16.2,-44.2 15.75,-44.8Z"/>
<path id="c56" vector-effect="non-scaling-stroke" d="M18.9,-45.9 20.3,-46.15 21.5,-45.2 22.6,-44.6 22.7,-44.2 23,-43.2 22.4,-42.3 21.6,-42.25 20.6,-41.9 20.5,-42.2 20.1,-42.6 20.3,-42.85 19.2,-43.5 19.6,-44 19,-44.9 19.4,-45.2Z"/>
<path id="c57" vector-effect="non-scaling-stroke" d="M18.5,-42.45 18.5,-42.6 18.6,-43.2 19.2,-43.5 20.3,-42.85 20.1,-42.6 19.4,-41.85Z"/>
<path id="c58" vector-effect="non-scaling-stroke" d="M19.4,-41.85 20.1,-42.6 20.5,-42.2 20.6,-41.9 20.5,-41.3 21,-40.85 20.6,-40.1 20,-39.7 19.4,-40.4 19.5,-41.3Z"/>
<path id="c59" vector-effect="non-scaling-stroke" d="M20.6,-41.9 21.6,-42.25 22.4,-42.3 23,-41.7 22.95,-41.35 22,-41.1 21,-40.85 20.5,-41.3Z"/>
<path id="c60" vector-effect="non-scaling-stroke" d="M20,-39.7 20.6,-40.1 21,-40.85 22,-41.1 22.95,-41.35 24.5,-41.55 26.1,-41.35 26.35,-41.7 26.6,-41.3 26.05,-40.75 25.9,-40.85 25.1,-40.95 24.4,-40.95 23.75,-40.7 24,-40.45 24.4,-40.15 23.9,-40.35 23.95,-39.95 23.7,-40.2 23.4,-39.95 23.35,-40.2 23,-40.3 22.9,-40.6 22.6,-40.5 22.6,-40 22.9,-39.6 22.95,-39.35 23.35,-39.2 23.05,-39.1 22.6,-38.9 22.95,-38.85 23.2,-38.65 23.6,-38.5 24.05,-38.15 24.05,-37.65 23.7,-37.95 23.15,-37.9 23.5,-37.45 22.75,-37.55 23.05,-37 23.2,-36.45 22.8,-36.8 22.5,-36.4 22.35,-36.5 22.15,-36.9 21.7,-36.8 21.55,-37.2 21.1,-37.85 21.3,-38.2 22.4,-38.15 22.95,-37.95 22.9,-38.2 22.4,-38.35 21.75,-38.3 21.1,-38.35 20.75,-38.95 20.2,-39.3ZM23.5,-35.5 24.2,-35.65 25.8,-35.35 26.3,-35.25 26.1,-35 24.8,-34.92 23.55,-35.25ZM23,-38.9 23.35,-39 24.15,-38.65 24.55,-38.15 24.6,-37.95 24.2,-38.1 23.65,-38.4 23.3,-38.65ZM27.7,-36.15 28.25,-36.45 28.1,-36.05 27.8,-35.9Z"/>
<path id="c61" vector-effect="non-scaling-stroke" d="M22.7,-44.2 24.5,-43.75 27,-44.15 28.6,-43.75 27.9,-42.8 28,-42 27,-42.05 26.35,-41.7 26.1,-41.35 24.5,-41.55 22.95,-41.35 23,-41.7 22.4,-42.3 23,-43.2Z"/>
<path id="c62" vector-effect="non-scaling-stroke" d="M20.3,-46.15 21.2,-46.4 22,-47.4 22.9,-48 24.9,-47.75 26.6,-48.25 27.5,-47.5 28.1,-46.8 28.2,-45.5 29.7,-45.2 29.6,-45 28.7,-44.5 28.6,-43.75 27,-44.15 24.5,-43.75 22.7,-44.2 22.6,-44.6 21.5,-45.2Z"/>
<path id="c63" vector-effect="non-scaling-stroke" d="M26.6,-48.25 28,-48.4 29.2,-47.9 30.1,-46.4 28.95,-46.05 28.2,-45.5 28.1,-46.8 27.5,-47.5Z"/>
<path id="c64" vector-effect="non-scaling-stroke" d="M22.15,-48.4 22.6,-49.1 24.1,-50.6 23.65,-51.5 25.5,-51.9 27.5,-51.5 30.5,-51.3 31.8,-52.1 33.8,-52.35 35.5,-51 35.4,-50.5 38,-49.9 40.1,-49.6 39.7,-47.9 38.3,-47.1 36.8,-46.7 35.2,-46.3 35,-45.6 36.5,-45.3 35.3,-44.9 33.7,-44.4 32.6,-45.4 33.6,-46.1 31.8,-46.5 30.8,-46.5 29.7,-45.2 28.2,-45.5 28.95,-46.05 30.1,-46.4 29.2,-47.9 28,-48.4 26.6,-48.25 24.9,-47.75 22.9,-48Z"/>
<path id="c65" vector-effect="non-scaling-stroke" d="M23.65,-51.5 23.2,-52.25 23.95,-52.9 23.5,-53.95 24.4,-53.9 25.7,-54.3 25.8,-54.9 26.8,-55.3 26.6,-55.7 28.15,-56.15 30.9,-55.6 30.8,-54.8 32.7,-53.4 31.3,-53.1 31.8,-52.1 30.5,-51.3 27.5,-51.5 25.5,-51.9Z"/>
<path id="c66" vector-effect="non-scaling-stroke" d="M21.05,-56.05 22.7,-56.35 24.9,-56.4 26.6,-55.7 26.8,-55.3 25.8,-54.9 25.7,-54.3 24.4,-53.9 23.5,-53.95 22.8,-54.35 22.7,-54.95 21.3,-55.25Z"/>
<path id="c67" vector-effect="non-scaling-stroke" d="M21.05,-56.05 21.05,-56.8 21.7,-57.6 22.6,-57.7 23.2,-57 24.3,-57.2 24.35,-57.85 25.3,-58.05 27.4,-57.55 27.8,-57.3 28.15,-56.15 26.6,-55.7 24.9,-56.4 22.7,-56.35Z"/>
<path id="c68" vector-effect="non-scaling-stroke" d="M24.35,-57.85 24.5,-58.3 23.5,-58.7 23.5,-59.2 25.5,-59.6 28,-59.45 27.4,-58.8 27.4,-57.55 25.3,-58.05ZM21.9,-58.3 23,-58.6 22.8,-58.2 22.1,-58ZM22.2,-58.9 23,-59 22.7,-58.7Z"/>
<path id="c69" vector-effect="non-scaling-stroke" d="M30.9,-69.8 35,-69.2 38,-68.3 41,-67.5 41,-66.6 38.5,-66.1 35,-66.6 32.8,-67.1 34.8,-64.5 37,-63.9 38,-64.8 40,-64.6 40.5,-65.8 43,-66.3 44,-66.4 44.2,-68.5 46.3,-68.1 45.5,-67 47.8,-67.6 50,-68 53.5,-68.9 54,-68.2 57.5,-68.7 60.5,-69.8 64,-69.4 66,-69 68.5,-68.3 67.5,-69.6 66.8,-70.5 67.2,-71.5 69,-72.9 72.5,-72.8 72.8,-71.2 72.3,-69 73.5,-66.8 71.5,-66.3 74,-66.8 74.5,-68.5 73.8,-69.5 74.3,-71 73.5,-71.8 74.5,-72.9 77.5,-72.5 78,-71.2 80,-71.8 80.5,-73.6 86.5,-74 87,-75 90,-75.6 96,-76.1 100,-76.5 104.3,-77.7 107.5,-76.7 113.5,-76 113,-74.3 108,-73.3 113.5,-73.5 118.5,-73.2 123.5,-73.7 127,-73.5 129.5,-72 129,-71 132.5,-71.5 137,-71.4 140,-72.5 146,-72.3 150,-71.5 152,-70.9 159,-70.7 160,-69.7 164,-69.7 168.5,-70 170.5,-69 171,-70 176,-69.8 180,-69 184,-67.5 187,-66.7 190.3,-66.1 187.5,-64.7 186,-64.4 182.5,-65.5 181,-66.2 178,-64.6 179.5,-62.5 174,-61.8 170.5,-60 166,-60.2 164,-59.9 163,-58.5 162,-57.8 163.2,-56.2 162,-54.8 160,-53.2 158.3,-52.9 156.7,-51 156,-53 155.5,-55.3 156,-57 158,-58.2 159.7,-59.6 161.9,-60.4 163.7,-61.3 164,-62.5 160.5,-61.8 160,-60.7 156.5,-61.6 154.5,-59.5 151.3,-59 149,-59.7 143,-59.3 140.5,-57.8 137.5,-55.2 135.2,-54.8 137.5,-54 140,-53.3 141.4,-53.2 140.5,-51.5 140.5,-49 139,-47.5 138,-46.3 136,-44.5 133.2,-42.8 132,-43.2 130.7,-42.3 131.2,-43.5 131.3,-44.9 133,-45.1 134.8,-48.4 130.8,-47.7 130.5,-48.9 127.5,-49.8 126,-52.7 123.5,-53.5 120.9,-53.3 120,-52.7 120.7,-52 119,-50 117.8,-49.5 116.7,-49.8 114.8,-50.2 111,-49.3 107.5,-49.9 105,-50.4 102.3,-50.6 102,-51.4 98.8,-52.1 98,-50 95,-50 92.5,-50.8 89.5,-49.6 87.8,-49.2 87.3,-49.1 85.5,-49.6 83.5,-51 80,-50.8 77.8,-53.3 76.5,-54.2 74,-53.6 73.4,-54 71,-54.2 70.8,-55.3 68.2,-55 65.3,-54.4 62,-54 61,-53 61.5,-51.3 58.5,-51 55.8,-50.6 54.5,-51 52.5,-51.5 50.8,-51.7 48.6,-50.6 48.8,-49.9 47,-49.2 46.9,-48.4 48.2,-47.7 49,-46.5 49.2,-46.4 47.6,-45.6 46.7,-44.5 47.5,-43 48.5,-41.85 46.4,-41.9 44.9,-42.7 43.8,-42.6 42.5,-43.2 40,-43.4 38.5,-44.4 37,-45 36.6,-45.3 38.2,-46.1 37.7,-46.7 39.3,-47.1 38.3,-47.1 39.7,-47.9 40.1,-49.6 38,-49.9 35.4,-50.5 35.5,-51 33.8,-52.35 31.8,-52.1 31.3,-53.1 32.7,-53.4 30.8,-54.8 30.9,-55.6 28.15,-56.15 27.8,-57.3 27.4,-57.55 27.4,-58.8 28,-59.45 28.5,-59.8 30.2,-59.9 28.5,-60.5 27.8,-60.55 29.5,-61.5 31.6,-62.9 30,-63.5 30.5,-64.2 29.7,-64.8 30.1,-65.7 29.1,-66.9 29.9,-67.7 28.5,-68.5 28.9,-69.05ZM19.6,-54.45 20,-54.95 21.3,-55.25 22.7,-54.95 22.8,-54.35ZM51.5,-71.5 53.5,-70.8 57.5,-70.6 55.5,-72 55.5,-73.3 58,-74.5 61,-75.8 68.5,-76.9 66,-77 60,-76.2 56,-75.1 54,-73.5 51.5,-72ZM95,-79.5 100,-78.2 105,-78.3 104,-79.5 100,-80.2 96,-81ZM137,-75.3 143,-74.8 150,-75.2 145,-76 139,-76ZM140,-73.5 143,-73.3 142,-73.9ZM178.5,-71 181.5,-70.9 182,-71.5 179,-71.6ZM142,-54.3 143,-53.3 143.3,-51.5 144.6,-49 143,-49 143.4,-46.8 142.5,-46 142,-47.5 142.1,-49.5 141.8,-51.7 141.7,-53.3ZM47,-80.3 50,-80 51,-80.7 48,-80.8ZM53,-80.2 57,-80.1 59,-80.6 55,-81ZM59.5,-81 63,-80.7 65,-81.2 61,-81.6ZM48.5,-69 50,-69.2 49.5,-69.5 48.3,-69.4ZM58.5,-70 60,-69.8 59.5,-70.4ZM155.5,-50.3 156.2,-50.7 155.8,-50.9ZM147.8,-45.3 150,-46 149,-45.5ZM166,-55 166.5,-54.7 166.2,-55.3Z"/>
<path id="c70" vector-effect="non-scaling-stroke" d="M26.05,-40.75 26.6,-41.3 26.35,-41.7 27,-42.05 28,-42 28.2,-41.5 29.1,-41.2 29,-41 27.5,-40.95 26.7,-40.4 26.15,-40.05 26.4,-40.15 27.3,-40.45 28,-40.4 29,-40.45 29.9,-40.75 29.2,-41.15 30.2,-41.15 31.5,-41.2 32.3,-41.75 33.5,-42 35.2,-42.05 36.5,-41.3 38.5,-41 40.1,-41 41.5,-41.5 42.8,-41.5 43.5,-41.1 43.7,-40.1 44.8,-39.7 44.1,-39.3 44.3,-38.3 44.8,-37.2 42.4,-37.1 41,-37.1 38,-36.8 36.7,-36.7 36.6,-36.2 36.2,-35.8 35.95,-35.9 35.8,-36.3 36.15,-36.6 35.55,-36.6 34.6,-36.75 33.7,-36.15 32.8,-36.05 32,-36.5 31.5,-36.6 30.6,-36.8 30.4,-36.25 29.6,-36.15 29.1,-36.6 28.9,-36.7 28.1,-36.65 27.4,-36.7 28.1,-37 27.25,-37 27.5,-37.3 27.05,-37.65 27.25,-37.95 26.8,-38 27.1,-38.4 26.65,-38.15 26.3,-38.25 26.35,-38.65 26.8,-38.7 26.9,-38.95 26.7,-39.3 26.9,-39.55 26.05,-39.5 26.15,-39.95Z"/>
<path id="c71" vector-effect="non-scaling-stroke" d="M32.3,-35.05 32.4,-34.75 33,-34.6 33.6,-34.85 34.05,-35 34.6,-35.65 33.9,-35.4 33,-35.35 32.6,-35.2Z"/>
<path id="c72" vector-effect="non-scaling-stroke" d="M40,-43.4 42.5,-43.2 43.8,-42.6 44.9,-42.7 46.4,-41.9 46.5,-41.1 45,-41.25 43.5,-41.1 42.8,-41.5 41.5,-41.5 41.7,-42.1 41,-43Z"/>
<path id="c73" vector-effect="non-scaling-stroke" d="M43.5,-41.1 45,-41.25 45.5,-40.7 46.5,-39.5 46.5,-38.9 46.1,-38.85 44.8,-39.7 43.7,-40.1Z"/>
<path id="c74" vector-effect="non-scaling-stroke" d="M46.4,-41.9 48.5,-41.85 49.6,-40.6 50.4,-40.3 49.4,-39.4 48.9,-38.45 48,-38.85 48.3,-39.4 46.5,-38.9 46.5,-39.5 45.5,-40.7 45,-41.25 46.5,-41.1Z"/>
<path id="c75" vector-effect="non-scaling-stroke" d="M-5.9,-35.8 -5.3,-35.9 -4.3,-35.2 -2.9,-35.3 -2.2,-35.1 -1.8,-34.7 -1.7,-33.3 -1.3,-32.3 -2.9,-31.9 -3.6,-31.4 -3.7,-30.9 -5,-30 -5.5,-29.7 -7.6,-29.4 -8.67,-28.7 -8.67,-27.67 -13.17,-27.67 -12.9,-27.95 -11.5,-28.4 -10.2,-29.3 -9.7,-30.4 -9.8,-31.4 -9.3,-32.5 -8.5,-33.3 -6.8,-34.1 -6.2,-35.2Z"/>
<path id="c76" vector-effect="non-scaling-stroke" d="M-13.17,-27.67 -8.67,-27.67 -8.67,-26 -12,-26 -12,-23.45 -13,-23 -13,-21.33 -16.95,-21.33 -17.05,-20.8 -16.3,-22.5 -15.9,-23.8 -14.9,-24.7 -14.4,-26.2 -13.5,-27Z"/>
<path id="c77" vector-effect="non-scaling-stroke" d="M-2.2,-35.1 0,-35.9 1.3,-36.5 3,-36.8 5,-36.8 7,-37.1 8.6,-36.95 8.2,-36.5 8.3,-35.3 7.5,-33.9 8.3,-32.5 9.1,-32.1 9.5,-30.2 9.9,-29 9.8,-26.5 10.3,-24.6 11.5,-24.3 12,-23.5 7.5,-20.85 5.8,-19.45 4.25,-19.15 3.3,-19 3.1,-19.7 1.8,-20.3 1.2,-21.1 -4.8,-25 -8.67,-27.3 -8.67,-28.7 -7.6,-29.4 -5.5,-29.7 -5,-30 -3.7,-30.9 -3.6,-31.4 -2.9,-31.9 -1.3,-32.3 -1.7,-33.3 -1.8,-34.7Z"/>
<path id="c78" vector-effect="non-scaling-stroke" d="M8.6,-36.95 9.8,-37.3 11,-37.05 10.5,-36.4 10.6,-35.8 11.1,-35.2 10.1,-34.3 11,-33.6 11.55,-33.15 11.5,-32.4 10.3,-31.7 10.2,-30.7 9.5,-30.2 9.1,-32.1 8.3,-32.5 7.5,-33.9 8.3,-35.3 8.2,-36.5Z"/>
<path id="c79" vector-effect="non-scaling-stroke" d="M11.55,-33.15 12.5,-32.8 15.2,-32.3 15.5,-31.5 17.5,-30.9 19.2,-30.3 20,-31 20,-32.2 21.5,-32.9 23.1,-32.6 25.15,-31.65 25,-29.2 25,-22 25,-20 24,-20 24,-19.5 15,-23 14.2,-22.6 12,-23.5 11.5,-24.3 10.3,-24.6 9.8,-26.5 9.9,-29 9.5,-30.2 10.2,-30.7 10.3,-31.7 11.5,-32.4Z"/>
<path id="c80" vector-effect="non-scaling-stroke" d="M25.15,-31.65 27.5,-31.2 29,-30.85 30.9,-31.5 32.2,-31.3 34.25,-31.25 34.9,-29.5 34.4,-28 34.2,-27.75 33.2,-28.6 32.6,-29.9 32.6,-29.3 33.5,-27.9 34,-26.6 35.2,-24.4 35.7,-23.9 35.6,-23 36.9,-22 25,-22 25,-29.2Z"/>
<path id="c81" vector-effect="non-scaling-stroke" d="M25,-22 36.9,-22 37.3,-21 37.2,-19.5 37.4,-18.7 38.6,-18 37.9,-17.4 37,-17.05 36.9,-16.3 36.4,-15.1 36.55,-14.25 36.1,-12.7 35.1,-11.8 34.9,-10.8 34.3,-10.6 34.1,-9.5 33.9,-9.5 33.9,-10.2 33.1,-10.7 33,-12.2 32.3,-11.9 32.4,-11 31.2,-9.8 30,-10.3 28.8,-9.4 27.9,-9.6 26.6,-9.5 25.8,-10.4 25,-10.3 24.5,-8.9 24.2,-8.7 23.45,-9 23.6,-9.9 22.9,-10.9 22.9,-11.4 22.5,-12.6 21.8,-12.7 22.1,-13.6 22.6,-14.2 22.4,-15 23,-15.7 24,-15.7 24,-19.5 24,-20 25,-20Z"/>
<path id="c82" vector-effect="non-scaling-stroke" d="M24.2,-8.7 24.5,-8.9 25,-10.3 25.8,-10.4 26.6,-9.5 27.9,-9.6 28.8,-9.4 30,-10.3 31.2,-9.8 32.4,-11 32.3,-11.9 33,-12.2 33.1,-10.7 33.9,-10.2 33.9,-9.5 34.1,-9.5 34.1,-8.6 33,-7.8 34.7,-6.7 35.3,-5.4 35.9,-4.6 34.4,-4.6 34,-4.2 33.5,-3.75 32.2,-3.5 30.85,-3.5 30.5,-3.9 29.5,-4.6 28.4,-4.3 27.4,-5.05 26.5,-6 25.3,-7.3Z"/>
<path id="c83" vector-effect="non-scaling-stroke" d="M-17.05,-20.8 -16.95,-21.33 -13,-21.33 -13,-23 -12,-23.45 -12,-26 -8.67,-26 -8.67,-27.3 -4.8,-25 -6.4,-21 -5.9,-19.3 -5.3,-16.3 -5.6,-15.5 -9.3,-15.5 -10.7,-15.4 -11.5,-15.6 -12.2,-14.8 -13.3,-16 -14.3,-16.6 -16.3,-16.5 -16.5,-16.05 -16,-18 -16.2,-19.2 -16.4,-20.5Z"/>
<path id="c84" vector-effect="non-scaling-stroke" d="M-4.8,-25 1.2,-21.1 1.8,-20.3 3.1,-19.7 3.3,-19 4.25,-19.15 4.2,-16.8 3.5,-15.4 1.3,-15.3 0.2,-14.9 -0.7,-15.1 -2,-14.2 -3,-13.7 -4.3,-13.1 -4.4,-12.3 -5.3,-11.8 -5.5,-10.45 -6.2,-10.5 -6.7,-10.4 -7.9,-10.2 -8.2,-10.7 -8.7,-10.9 -9.1,-12.2 -10.3,-12.2 -11.4,-12.4 -11.4,-13 -12.2,-14.4 -12.2,-14.8 -11.5,-15.6 -10.7,-15.4 -9.3,-15.5 -5.6,-15.5 -5.3,-16.3 -5.9,-19.3 -6.4,-21Z"/>
<path id="c85" vector-effect="non-scaling-stroke" d="M-16.5,-16.05 -16.3,-16.5 -14.3,-16.6 -13.3,-16 -12.2,-14.8 -12.2,-14.4 -11.4,-13 -11.4,-12.4 -13.7,-12.65 -15.2,-12.7 -16.7,-12.35 -16.8,-13.1 -15.3,-13.2 -13.8,-13.35 -14,-13.6 -15.5,-13.8 -16.8,-13.6 -17.5,-14.7 -16.8,-15.3Z"/>
<path id="c86" vector-effect="non-scaling-stroke" d="M-16.8,-13.1 -16.8,-13.6 -15.5,-13.8 -14,-13.6 -13.8,-13.35 -15.3,-13.2Z"/>
<path id="c87" vector-effect="non-scaling-stroke" d="M-16.7,-12.35 -15.2,-12.7 -13.7,-12.65 -13.7,-11.7 -14.7,-11.5 -15,-10.95 -15.9,-11.7Z"/>
<path id="c88" vector-effect="non-scaling-stroke" d="M-15,-10.95 -14.7,-11.5 -13.7,-11.7 -13.7,-12.65 -11.4,-12.4 -10.3,-12.2 -9.1,-12.2 -8.7,-10.9 -8.2,-10.7 -7.9,-10.2 -8,-9.4 -7.7,-8.4 -8.5,-7.6 -9.3,-7.4 -9.4,-8.4 -10.3,-8.5 -10.6,-9.1 -11.2,-10 -12.5,-9.9 -13.3,-9.05 -13.7,-9.6 -14.6,-10.5Z"/>
<path id="c89" vector-effect="non-scaling-stroke" d="M-13.3,-9.05 -12.5,-9.9 -11.2,-10 -10.6,-9.1 -10.3,-8.5 -10.6,-7.8 -11.5,-6.95 -12.5,-7.4 -13.2,-8.4Z"/>
<path id="c90" vector-effect="non-scaling-stroke" d="M-11.5,-6.95 -10.6,-7.8 -10.3,-8.5 -9.4,-8.4 -9.3,-7.4 -8.5,-7.6 -8.3,-6.4 -7.5,-5.8 -7.55,-4.35 -9,-5 -10.8,-6.3Z"/>
<path id="c91" vector-effect="non-scaling-stroke" d="M-7.55,-4.35 -7.5,-5.8 -8.3,-6.4 -8.5,-7.6 -7.7,-8.4 -8,-9.4 -7.9,-10.2 -6.7,-10.4 -6.2,-10.5 -5.5,-10.45 -4.7,-9.7 -2.8,-9.7 -2.7,-9.3 -2.5,-8.2 -3.2,-6.8 -2.9,-5.6 -3.1,-5.1 -4.5,-5.2 -6,-4.8Z"/>
<path id="c92" vector-effect="non-scaling-stroke" d="M-3.1,-5.1 -2.9,-5.6 -3.2,-6.8 -2.5,-8.2 -2.7,-9.3 -2.8,-9.7 -2.8,-11 -0.5,-11 0,-11.1 0,-10.6 0.4,-10.3 0.6,-8.3 0.5,-7 1.2,-6.1 0,-5.6 -2,-4.75Z"/>
<path id="c93" vector-effect="non-scaling-stroke" d="M1.2,-6.1 0.5,-7 0.6,-8.3 0.4,-10.3 0,-10.6 0,-11.1 0.9,-11 0.8,-10.4 1.4,-9.3 1.6,-6.9 1.65,-6.2Z"/>
<path id="c94" vector-effect="non-scaling-stroke" d="M1.65,-6.2 1.6,-6.9 1.4,-9.3 0.8,-10.4 0.9,-11 1.4,-11.4 2.4,-11.9 2.8,-12.4 3.6,-11.7 3.8,-10.6 2.8,-9 2.7,-6.4Z"/>
<path id="c95" vector-effect="non-scaling-stroke" d="M-5.5,-10.45 -5.3,-11.8 -4.4,-12.3 -4.3,-13.1 -3,-13.7 -2,-14.2 -0.7,-15.1 0.2,-14.9 0.9,-13.6 2.2,-12.4 2.4,-11.9 1.4,-11.4 0.9,-11 0,-11.1 -0.5,-11 -2.8,-11 -2.8,-9.7 -4.7,-9.7Z"/>
<path id="c96" vector-effect="non-scaling-stroke" d="M0.2,-14.9 1.3,-15.3 3.5,-15.4 4.2,-16.8 4.25,-19.15 5.8,-19.45 7.5,-20.85 12,-23.5 14.2,-22.6 15,-23 15.1,-21.3 15.6,-20 15.5,-16.9 13.5,-14.5 13.6,-13.7 12.5,-13.1 10,-13.3 7.8,-13.3 6.9,-13 5.5,-13.9 4.1,-13.5 3.6,-11.7 2.8,-12.4 2.4,-11.9 2.2,-12.4 0.9,-13.6Z"/>
<path id="c97" vector-effect="non-scaling-stroke" d="M2.7,-6.4 2.8,-9 3.8,-10.6 3.6,-11.7 4.1,-13.5 5.5,-13.9 6.9,-13 7.8,-13.3 10,-13.3 12.5,-13.1 13.6,-13.7 14.1,-13.1 14.2,-12.4 14.6,-11.5 13.8,-11 13.2,-9.6 12.8,-8.8 11.8,-7 11.1,-6.5 10.2,-6.9 9.2,-6.1 8.6,-4.8 7,-4.4 6,-4.3 5,-5.8 4.4,-6.3Z"/>
<path id="c98" vector-effect="non-scaling-stroke" d="M15,-23 24,-19.5 24,-15.7 23,-15.7 22.4,-15 22.6,-14.2 22.1,-13.6 21.8,-12.7 22.5,-12.6 22.9,-11.4 22.9,-10.9 21.7,-10.6 20.4,-9.1 19,-9 18.6,-8.1 16.6,-7.7 15.5,-7.5 15.2,-8.2 14,-9.7 15.5,-10 15.1,-10.8 14.9,-12.2 14.1,-13.1 13.6,-13.7 13.5,-14.5 15.5,-16.9 15.6,-20 15.1,-21.3Z"/>
<path id="c99" vector-effect="non-scaling-stroke" d="M8.6,-4.8 9.2,-6.1 10.2,-6.9 11.1,-6.5 11.8,-7 12.8,-8.8 13.2,-9.6 13.8,-11 14.6,-11.5 14.2,-12.4 14.1,-13.1 14.9,-12.2 15.1,-10.8 15.5,-10 14,-9.7 15.2,-8.2 15.5,-7.5 14.7,-6.3 14.6,-5 15,-4 16,-2.9 16.2,-2.2 16.1,-1.7 14.5,-2.1 13.3,-2.2 11.3,-2.2 9.8,-2.3 9.9,-3.2 9.5,-4 8.9,-4.5Z"/>
<path id="c100" vector-effect="non-scaling-stroke" d="M15.5,-7.5 16.6,-7.7 18.6,-8.1 19,-9 20.4,-9.1 21.7,-10.6 22.9,-10.9 23.6,-9.9 23.45,-9 24.2,-8.7 25.3,-7.3 26.5,-6 27.4,-5.05 25.5,-5.2 24.4,-5.1 22.9,-4.8 22.4,-4.1 20.6,-4.4 19.4,-5.1 18.6,-4.3 18.6,-3.5 17.5,-3.6 16.6,-3.5 16.2,-2.2 16,-2.9 15,-4 14.6,-5 14.7,-6.3Z"/>
<path id="c101" vector-effect="non-scaling-stroke" d="M9.8,-2.3 11.3,-2.2 11.3,-1 9.6,-1.05ZM8.5,-3.3 8.9,-3.7 8.7,-3.2Z"/>
<path id="c102" vector-effect="non-scaling-stroke" d="M9.6,-1.05 11.3,-1 11.3,-2.2 13.3,-2.2 13.2,-1.3 14.4,-1.4 14.5,-0.6 13.9,0 14.5,0.6 14.4,1.9 13,2.4 11.8,2.4 11.9,3.5 11.1,3.95 9.6,2.4 8.8,0.7 9.3,-0.3Z"/>
<path id="c103" vector-effect="non-scaling-stroke" d="M11.1,3.95 11.9,3.5 11.8,2.4 13,2.4 14.4,1.9 14.5,0.6 13.9,0 14.5,-0.6 14.4,-1.4 13.2,-1.3 13.3,-2.2 14.5,-2.1 16.1,-1.7 16.2,-2.2 16.6,-3.5 17.5,-3.6 18.6,-3.5 18.1,-2.2 17.8,-0.3 17.5,0.7 16.2,2.2 16,3.5 15.2,4.3 14.4,4.9 13.4,4.9 13.1,4.6 12.8,4.4 12,5.05Z"/>
<path id="c104" vector-effect="non-scaling-stroke" d="M12.2,5.75 12.5,5.7 13.1,4.6 13.4,4.9 14.4,4.9 15.2,4.3 16,3.5 16.2,2.2 17.5,0.7 17.8,-0.3 18.1,-2.2 18.6,-3.5 18.6,-4.3 19.4,-5.1 20.6,-4.4 22.4,-4.1 22.9,-4.8 24.4,-5.1 25.5,-5.2 27.4,-5.05 28.4,-4.3 29.5,-4.6 30.5,-3.9 30.85,-3.5 30.8,-2.4 31.3,-2.15 31,-1.7 30,-0.8 29.7,0.1 29.6,1.4 29.2,1.7 29,2.7 29.2,3.8 29.4,4.45 29.6,6.4 30.8,8.2 28.9,8.5 28.4,9.3 28.7,10.7 28.4,11.9 29.1,12.4 29.8,12.2 29.8,13.4 28.4,12.5 27.2,11.6 25.4,11.2 24.4,11.4 24,10.9 22.2,11.2 22.3,10.4 21.8,9.5 21.9,8.2 21.8,7.3 19.5,7 19,8 17.6,8.1 16.6,5.9 13,5.9 12.3,6.05Z"/>
<path id="c105" vector-effect="non-scaling-stroke" d="M12.3,6.05 13,5.9 16.6,5.9 17.6,8.1 19,8 19.5,7 21.8,7.3 21.9,8.2 21.8,9.5 22.3,10.4 22.2,11.2 24,10.9 24,13 22,13 22,16.2 23.4,17.6 21.4,17.95 18.4,17.4 14.2,17.4 13.5,17 11.8,17.25 12.2,15.2 12.5,13.5 13.8,11 13.2,9.5 13.4,8.4ZM12,5.05 12.8,4.4 13.1,4.6 12.5,5.7 12.2,5.75Z"/>
<path id="c106" vector-effect="non-scaling-stroke" d="M30.85,-3.5 32.2,-3.5 33.5,-3.75 34,-4.2 34.5,-3.2 35,-1.7 34,-0.5 33.9,1 30.5,1 29.6,1.4 29.7,0.1 30,-0.8 31,-1.7 31.3,-2.15 30.8,-2.4Z"/>
<path id="c107" vector-effect="non-scaling-stroke" d="M34,-4.2 34.4,-4.6 35.9,-4.6 36.1,-4.45 38.1,-3.6 39.5,-3.45 40.8,-4.2 41.9,-3.95 41,-2.8 41,0 41.6,1.65 40.2,2.7 39.6,4 39.2,4.65 37.6,3.5 37.6,3 33.9,1 34,-0.5 35,-1.7 34.5,-3.2Z"/>
<path id="c108" vector-effect="non-scaling-stroke" d="M35.9,-4.6 35.3,-5.4 34.7,-6.7 33,-7.8 34.1,-8.6 34.1,-9.5 34.3,-10.6 34.9,-10.8 35.1,-11.8 36.1,-12.7 36.55,-14.25 37.9,-14.9 39,-14.6 40.2,-14.45 41.2,-13.6 42.4,-12.5 41.8,-11.7 41.8,-11 42.9,-10.95 42.7,-10.6 43.6,-9.4 44,-9 47,-8 48,-8 45,-5 43.5,-4.8 42,-4.1 41.9,-3.95 40.8,-4.2 39.5,-3.45 38.1,-3.6 36.1,-4.45Z"/>
<path id="c109" vector-effect="non-scaling-stroke" d="M38.6,-18 37.9,-17.4 37,-17.05 36.9,-16.3 36.4,-15.1 36.55,-14.25 37.9,-14.9 39,-14.6 40.2,-14.45 41.2,-13.6 42.4,-12.5 43.1,-12.7 42.3,-13.5 41,-14.7 39.7,-15.3 39.2,-16.5Z"/>
<path id="c110" vector-effect="non-scaling-stroke" d="M43.1,-12.7 42.4,-12.5 41.8,-11.7 41.8,-11 42.9,-10.95 43.25,-11.5 42.7,-11.6 43.3,-12Z"/>
<path id="c111" vector-effect="non-scaling-stroke" d="M43.25,-11.5 42.9,-10.95 42.7,-10.6 43.6,-9.4 44,-9 47,-8 48,-8 45,-5 43.5,-4.8 42,-4.1 41.9,-3.95 41,-2.8 41,0 41.6,1.65 43.5,-0.6 46,-2.4 48,-4.5 49.8,-7.7 50.8,-9.5 51.2,-10.5 51.3,-11.85 50.8,-11.95 49,-11.3 47,-11.1 44.5,-10.4 43.5,-11.3Z"/>
<path id="c112" vector-effect="non-scaling-stroke" d="M29.6,1.4 30.5,1 30.9,2.3 30.5,2.4 29.9,2.8 29,2.7 29.2,1.7Z"/>
<path id="c113" vector-effect="non-scaling-stroke" d="M29,2.7 29.9,2.8 30.5,2.4 30.8,3.3 30,4.4 29.4,4.45 29.2,3.8Z"/>
<path id="c114" vector-effect="non-scaling-stroke" d="M30.5,1 33.9,1 37.6,3 37.6,3.5 39.2,4.65 38.8,6 39.5,7 39.3,8.3 40.4,10.5 38.5,11.4 36.5,11.7 34.9,11.6 34.6,11.6 34,9.5 32.9,9.4 31,8.6 30.8,8.2 29.6,6.4 29.4,4.45 30,4.4 30.8,3.3 30.5,2.4 30.9,2.3Z"/>
<path id="c115" vector-effect="non-scaling-stroke" d="M24,13 24,10.9 24.4,11.4 25.4,11.2 27.2,11.6 28.4,12.5 29.8,13.4 29.8,12.2 29.1,12.4 28.4,11.9 28.7,10.7 28.4,9.3 28.9,8.5 30.8,8.2 31,8.6 32.9,9.4 33.3,10.8 32.7,13.6 33.2,14 30.2,14.8 30.4,15.6 29,15.9 28.8,16.5 27,17.95 25.3,17.8 24.7,17.5 23.4,17.6 22,16.2 22,13Z"/>
<path id="c116" vector-effect="non-scaling-stroke" d="M32.9,9.4 34,9.5 34.6,11.6 34.4,12.2 34.6,13.5 35.9,14.9 35.8,16 35.3,17.1 34.4,16.3 34.4,14.5 33.2,14 32.7,13.6 33.3,10.8Z"/>
<path id="c117" vector-effect="non-scaling-stroke" d="M40.4,10.5 40.6,12.5 40.8,14.5 39.8,16.4 37.2,17.7 35,19.9 35.5,22 35.4,24 33,25.3 32.9,26.85 32.1,26.85 32,25.9 31.9,24.3 31.3,22.4 32.4,21.3 33,19.8 32.9,18 32.9,16.7 31.3,16 30.4,15.6 30.2,14.8 33.2,14 34.4,14.5 34.4,16.3 35.3,17.1 35.8,16 35.9,14.9 34.6,13.5 34.4,12.2 34.6,11.6 34.9,11.6 36.5,11.7 38.5,11.4Z"/>
<path id="c118" vector-effect="non-scaling-stroke" d="M25.3,17.8 27,17.95 28.8,16.5 29,15.9 30.4,15.6 31.3,16 32.9,16.7 32.9,18 33,19.8 32.4,21.3 31.3,22.4 29.4,22.2 28,21.6 27.7,20.5 26.2,19.5Z"/>
<path id="c119" vector-effect="non-scaling-stroke" d="M25.3,17.8 26.2,19.5 27.7,20.5 28,21.6 29.4,22.2 27,23.6 25.9,24.7 25.5,25.7 23,25.3 21.7,26.8 20.7,26.9 20,24.8 20,22 21,22 21,18.3 23.3,18.05 24.5,18.05Z"/>
<path id="c120" vector-effect="non-scaling-stroke" d="M11.8,17.25 13.5,17 14.2,17.4 18.4,17.4 21.4,17.95 23.4,17.6 24.7,17.5 25.3,17.8 24.5,18.05 23.3,18.05 21,18.3 21,22 20,22 20,24.8 20,28.4 19.2,28.9 17.4,28.7 16.5,28.6 15.3,27 14.5,22.9 13.4,20.9 12,18.5Z"/>
<path id="c121" vector-effect="non-scaling-stroke" d="M16.5,28.6 17.4,28.7 19.2,28.9 20,28.4 20,24.8 20.7,26.9 21.7,26.8 23,25.3 25.5,25.7 25.9,24.7 27,23.6 29.4,22.2 31.3,22.4 31.9,24.3 32,25.9 31.4,25.7 30.8,26.4 31,27.2 32,27.3 32.1,26.85 32.9,26.85 32.6,28.5 31.3,29.8 30,31.3 28.3,32.8 26.5,33.8 25.6,34 22.5,34.1 20,34.8 18.4,34.2 18.2,32.8 18.3,31.6 17.2,30Z"/>
<path id="c122" vector-effect="non-scaling-stroke" d="M27,29.6 28.2,28.7 29.4,29.4 29.1,30 28.1,30.6 27.3,30.2Z"/>
<path id="c123" vector-effect="non-scaling-stroke" d="M32,25.9 31.4,25.7 30.8,26.4 31,27.2 32,27.3 32.1,26.85Z"/>
<path id="c124" vector-effect="non-scaling-stroke" d="M49.3,12 50.4,15.3 49.7,16.8 49.4,18 48,22.3 47.1,24.9 45.2,25.6 43.7,23.5 43.3,22 44.4,19.9 44,17.5 44.9,16.2 46.4,15.7 47.9,14.6 48.8,13.3Z"/>
<path id="c125" vector-effect="non-scaling-stroke" d="M43.2,11.4 43.5,11.6 43.3,11.9ZM44.3,12.1 44.5,12.3 44.2,12.3Z"/>
<path id="c126" vector-effect="non-scaling-stroke" d="M-24.4,-15 -23.5,-15 -23.6,-15.3ZM-25.2,-17 -24.9,-17.1 -25.1,-16.8ZM-23,-16.1 -22.7,-16.2 -22.8,-16Z"/>
<path id="c127" vector-effect="non-scaling-stroke" d="M57.3,20.3 57.8,20.2 57.6,20.5ZM55.3,21 55.8,21.1 55.5,21.4Z"/>
<path id="c128" vector-effect="non-scaling-stroke" d="M36.2,-35.8 36.6,-36.2 36.7,-36.7 38,-36.8 41,-37.1 42.4,-37.1 41.3,-36.5 41.2,-34.8 41,-34.4 38.8,-33.4 36.8,-32.3 35.7,-32.7 35.6,-33.25 36.6,-34.2 36.4,-34.6 35.95,-34.65 35.9,-35.5Z"/>
<path id="c129" vector-effect="non-scaling-stroke" d="M35.1,-33.1 35.6,-33.25 36.6,-34.2 36.4,-34.6 35.95,-34.65 35.5,-33.9Z"/>
<path id="c130" vector-effect="non-scaling-stroke" d="M34.9,-29.5 34.3,-31.22 34.57,-31.5 34.5,-31.6 34.95,-32.8 35.1,-33.1 35.6,-33.25 35.7,-32.7 35.55,-32.4 35.2,-32.55 35.05,-32.2 34.95,-31.6 35,-31.35 35.4,-31.25 35.4,-31.1 35.15,-30.1Z"/>
<path id="c131" vector-effect="non-scaling-stroke" d="M34.95,-29.35 35.15,-30.1 35.4,-31.1 35.55,-31.8 35.55,-32.4 35.7,-32.7 36.8,-32.3 38.8,-33.4 39.2,-32.15 37,-31.5 38,-30.5 37.5,-30 36.7,-29.85 36.1,-29.2Z"/>
<path id="c132" vector-effect="non-scaling-stroke" d="M42.4,-37.1 44.8,-37.2 45.4,-36 46.3,-35.8 45.5,-34.6 45.4,-34 46.2,-33 47.8,-32 47.7,-31 48.5,-30 48.55,-29.95 47.95,-30 47.7,-30.1 47.4,-30 46.55,-29.1 44.7,-29.2 42,-31.1 40.4,-31.95 39.2,-32.15 38.8,-33.4 41,-34.4 41.2,-34.8 41.3,-36.5Z"/>
<path id="c133" vector-effect="non-scaling-stroke" d="M46.55,-29.1 47.4,-30 47.7,-30.1 48.05,-29.95 48.4,-28.55 47.6,-28.55 47.45,-29Z"/>
<path id="c134" vector-effect="non-scaling-stroke" d="M34.95,-29.35 36.1,-29.2 36.7,-29.85 37.5,-30 38,-30.5 37,-31.5 39.2,-32.15 40.4,-31.95 42,-31.1 44.7,-29.2 46.55,-29.1 47.45,-29 47.6,-28.55 48.4,-28.55 48.9,-27.6 50.2,-26.7 50.1,-25.9 50.8,-24.75 51.3,-24.5 51.6,-24.1 52.6,-22.95 55.15,-22.7 55.65,-22 55,-20 52,-19 49,-18.6 48.2,-18.2 47,-16.95 45.4,-17.3 43.4,-17.5 43.2,-16.7 42.8,-16.4 42.3,-17.5 41,-19.6 39.2,-21.3 39,-22.5 38,-24.1 37.2,-25 36.6,-26 35.2,-28.05 34.6,-28.1Z"/>
<path id="c135" vector-effect="non-scaling-stroke" d="M42.8,-16.4 43.2,-16.7 43.4,-17.5 45.4,-17.3 47,-16.95 48.2,-18.2 49,-18.6 52,-19 53.1,-16.65 52.2,-15.6 49,-14 47.5,-13.6 45,-12.8 43.5,-12.65 43.2,-13.3 42.8,-14.9ZM53.3,-12.5 54.5,-12.6 53.8,-12.3Z"/>
<path id="c136" vector-effect="non-scaling-stroke" d="M53.1,-16.65 52,-19 55,-20 55.65,-22 55.15,-22.7 55.8,-24.2 56.4,-24.9 56.6,-24.4 58.7,-23.6 59.8,-22.5 58.5,-20.4 57.8,-19 56.5,-18 55.2,-17.5 54.8,-17ZM56.1,-26.05 56.4,-26.4 56.5,-25.7Z"/>
<path id="c137" vector-effect="non-scaling-stroke" d="M51.6,-24.1 51.6,-24.25 52.6,-24.2 54,-24.15 55.3,-25.25 56.1,-26.05 56.5,-25.7 56.4,-24.9 55.8,-24.2 55.15,-22.7 52.6,-22.95Z"/>
<path id="c138" vector-effect="non-scaling-stroke" d="M50.8,-24.75 50.75,-25.5 51.2,-26.15 51.6,-25.8 51.6,-24.6 51.3,-24.5Z"/>
<path id="c139" vector-effect="non-scaling-stroke" d="M50.45,-25.9 50.65,-25.9 50.6,-26.25 50.45,-26.2Z"/>
<path id="c140" vector-effect="non-scaling-stroke" d="M44.8,-39.7 46.1,-38.85 46.5,-38.9 48,-38.85 48.3,-39.4 48.9,-38.45 50,-37.4 51.5,-36.7 53.9,-36.95 54,-37.35 55.5,-38 57.2,-38.25 59.3,-37.5 61.2,-36.6 61.2,-35.6 60.5,-34.5 60.6,-33.2 60.85,-31.5 61.8,-31.1 60.85,-29.85 61.8,-28.7 62.8,-28.2 62.8,-27.2 63.3,-26.7 61.8,-26.2 61.6,-25.2 58.5,-25.55 57.2,-25.9 56.8,-27.1 54.7,-26.5 53,-26.9 51.5,-27.85 50.3,-29.8 49,-30.45 48.55,-29.95 48.5,-30 47.7,-31 47.8,-32 46.2,-33 45.4,-34 45.5,-34.6 46.3,-35.8 45.4,-36 44.8,-37.2 44.3,-38.3 44.1,-39.3Z"/>
<path id="c141" vector-effect="non-scaling-stroke" d="M49.2,-46.4 49,-46.5 48.2,-47.7 46.9,-48.4 47,-49.2 48.8,-49.9 48.6,-50.6 50.8,-51.7 52.5,-51.5 54.5,-51 55.8,-50.6 58.5,-51 61.5,-51.3 61,-53 62,-54 65.3,-54.4 68.2,-55 70.8,-55.3 71,-54.2 73.4,-54 74,-53.6 76.5,-54.2 77.8,-53.3 80,-50.8 83.5,-51 85.5,-49.6 87.3,-49.1 85.8,-48.4 85.5,-47.1 83,-47.2 82.3,-45.5 80,-45 80.8,-43.2 80.2,-42.2 79,-42.8 76,-42.9 74,-43.2 73.5,-42.5 71,-42.6 70.9,-42.3 69,-41.4 68,-40.8 66.6,-41.2 66,-42.4 66.1,-43 64.9,-43.7 62,-43.5 61,-44.4 58.6,-45.6 56,-45 56,-41.3 54.9,-41.9 54,-42.3 53,-42.1 52.4,-41.75 52.8,-42.7 51.3,-43.2 50.3,-44.3 51.3,-44.6 51.1,-45.3 53,-45.3 53.2,-46.9 51.2,-47.1Z"/>
<path id="c142" vector-effect="non-scaling-stroke" d="M56,-45 58.6,-45.6 61,-44.4 62,-43.5 64.9,-43.7 66.1,-43 66,-42.4 66.6,-41.2 68,-40.8 69,-41.4 70.9,-42.3 71.2,-42.2 70.5,-41.5 71.7,-41.5 73,-40.8 72,-40.5 70.6,-40.2 69.3,-40.7 69,-40.2 68.6,-39.6 67.5,-39.3 68.2,-38.5 67.8,-37.2 66.5,-37.35 65.6,-38.2 64.2,-38.9 62.5,-40 61.9,-41.1 60.2,-41.3 60,-42.2 58.6,-42.7 57.4,-42.2 57,-41.3 56,-41.3Z"/>
<path id="c143" vector-effect="non-scaling-stroke" d="M52.4,-41.75 53,-42.1 54,-42.3 54.9,-41.9 56,-41.3 57,-41.3 57.4,-42.2 58.6,-42.7 60,-42.2 60.2,-41.3 61.9,-41.1 62.5,-40 64.2,-38.9 65.6,-38.2 66.5,-37.35 64.8,-37.1 64.5,-36.3 63,-35.4 62.3,-35.3 61.2,-35.6 61.2,-36.6 59.3,-37.5 57.2,-38.25 55.5,-38 54,-37.35 53.9,-38.9 53,-39.5 53.7,-40.1 52.8,-40.9Z"/>
<path id="c144" vector-effect="non-scaling-stroke" d="M70.9,-42.3 71,-42.6 73.5,-42.5 74,-43.2 76,-42.9 79,-42.8 80.2,-42.2 78.4,-41.4 76.8,-41 76,-40.4 74.8,-40.5 73.8,-39.8 73.6,-39.45 71.7,-39.4 70.7,-39.6 69.5,-39.55 69.3,-40.2 70.6,-40.2 72,-40.5 73,-40.8 71.7,-41.5 70.5,-41.5 71.2,-42.2Z"/>
<path id="c145" vector-effect="non-scaling-stroke" d="M67.8,-37.2 68.2,-38.5 67.5,-39.3 68.6,-39.6 69,-40.2 69.3,-40.7 70.6,-40.2 69.3,-40.2 69.5,-39.55 70.7,-39.6 71.7,-39.4 73.6,-39.45 73.8,-38.6 74.9,-38.4 74.9,-37.25 73.3,-37.45 71.8,-36.7 71.5,-37.9 70.3,-38.4 70.2,-37.6 69.3,-37.1Z"/>
<path id="c146" vector-effect="non-scaling-stroke" d="M60.85,-29.85 61.8,-31.1 60.85,-31.5 60.6,-33.2 60.5,-34.5 61.2,-35.6 62.3,-35.3 63,-35.4 64.5,-36.3 64.8,-37.1 66.5,-37.35 67.8,-37.2 69.3,-37.1 70.2,-37.6 70.3,-38.4 71.5,-37.9 71.8,-36.7 73.3,-37.45 74.9,-37.25 74,-36.8 71.6,-36.4 71.2,-35 71,-34 70,-34 69.9,-33.1 69.3,-31.9 68,-31.6 66.4,-30.9 66.3,-29.85 64,-29.4 62.5,-29.4Z"/>
<path id="c147" vector-effect="non-scaling-stroke" d="M61.6,-25.2 61.8,-26.2 63.3,-26.7 62.8,-27.2 62.8,-28.2 61.8,-28.7 60.85,-29.85 62.5,-29.4 64,-29.4 66.3,-29.85 66.4,-30.9 68,-31.6 69.3,-31.9 69.9,-33.1 70,-34 71,-34 71.2,-35 71.6,-36.4 74,-36.8 74.9,-37.25 75.8,-36.7 77.8,-35.5 77,-35 74,-34.7 73.8,-34.3 74,-33.2 75.3,-32.3 74.5,-31 73.9,-30 72.2,-28 70.4,-28 69.5,-27 70.8,-25.7 71,-24.4 68.8,-24.3 68.2,-23.7 67.3,-24.6 66.7,-25 64.5,-25.2Z"/>
<path id="c148" vector-effect="non-scaling-stroke" d="M68.2,-23.7 68.8,-24.3 71,-24.4 70.8,-25.7 69.5,-27 70.4,-28 72.2,-28 73.9,-30 74.5,-31 75.3,-32.3 74,-33.2 73.8,-34.3 74,-34.7 77,-35 77.8,-35.5 79,-34.3 78.9,-33 78.4,-32.5 79.5,-31 81.1,-30.2 80.1,-28.8 81.5,-28.2 83.3,-27.4 85,-26.9 88.1,-26.4 88.1,-27.9 88.8,-28 88.9,-27.3 89.8,-26.7 92.1,-26.9 91.7,-27.8 93.5,-28.8 95,-29.3 96.3,-29.3 97.3,-28.3 97,-27.2 95.2,-26.7 94.6,-25.2 94.1,-23.9 93.3,-24.1 93.4,-23.2 92.6,-21.95 92.3,-23.3 91.6,-23 91.2,-23.6 91.3,-24.1 92.3,-24.9 92.5,-25.1 89.85,-25.3 89.8,-26 88.4,-26.6 88.1,-25.9 88.9,-25.2 88.1,-24.5 88.8,-23.2 89,-21.65 88,-21.7 87,-21.3 86.5,-20.2 85,-19.4 82.3,-16.7 80.3,-15.7 80.1,-13.5 79.8,-11 79.3,-10.3 79,-9.3 78,-8.9 77.5,-8.1 76.5,-9.5 75.7,-11.5 74.8,-13 73.5,-16 72.8,-19 72.7,-21 72.5,-21.3 71,-20.8 69,-22.3 70.3,-22.9 68.5,-23.3ZM92.7,-11.6 93,-13.4 92.8,-12.8Z"/>
<path id="c149" vector-effect="non-scaling-stroke" d="M80.1,-28.8 81.1,-30.2 82,-30.3 84,-28.9 86,-28 88.1,-27.9 88.1,-26.4 85,-26.9 83.3,-27.4 81.5,-28.2Z"/>
<path id="c150" vector-effect="non-scaling-stroke" d="M88.9,-27.3 89.8,-26.7 92.1,-26.9 91.7,-27.8 90.3,-28.3 89.5,-28.1Z"/>
<path id="c151" vector-effect="non-scaling-stroke" d="M89,-21.65 88.8,-23.2 88.1,-24.5 88.9,-25.2 88.1,-25.9 88.4,-26.6 89.8,-26 89.85,-25.3 92.5,-25.1 92.3,-24.9 91.3,-24.1 91.2,-23.6 91.6,-23 92.3,-23.3 92.6,-21.95 92.3,-20.7 91.9,-21.9 91,-22.6 90.3,-21.8Z"/>
<path id="c152" vector-effect="non-scaling-stroke" d="M79.7,-8.2 80.2,-9.8 81.2,-8.5 81.9,-7.2 81.3,-6.2 80.2,-5.95 79.8,-7Z"/>
<path id="c153" vector-effect="non-scaling-stroke" d="M92.3,-20.7 92.6,-21.95 93.4,-23.2 93.3,-24.1 94.1,-23.9 94.6,-25.2 95.2,-26.7 97,-27.2 97.3,-28.3 98.3,-27.6 98.7,-26 97.6,-24.8 97.6,-23.9 98.9,-23.2 99.3,-22.1 100.3,-21.5 101.15,-21.6 100.1,-20.35 99.3,-20.1 98,-19.6 97.4,-18.5 98.6,-16.2 98.2,-15.2 99.2,-13 99.2,-11.6 98.6,-10 98.5,-10.7 98.7,-12.2 98,-14 97.8,-15.5 97.5,-16.5 96.5,-16.6 95.4,-15.8 94.3,-16 94.5,-17.8 93.7,-19.5 92.8,-20.3Z"/>
<path id="c154" vector-effect="non-scaling-stroke" d="M97.4,-18.5 98,-19.6 99.3,-20.1 100.1,-20.35 100.5,-19.5 101.2,-19.6 101,-17.8 102.1,-18.2 103.2,-18.3 104,-18.3 104.8,-17.4 104.8,-16.3 105.6,-15.5 105.5,-14.4 103,-14.3 102.5,-13.6 102.9,-11.7 102.3,-12.3 101,-12.7 100.9,-13.5 100,-13.4 100,-12 99.3,-10.8 99.2,-9.3 100,-8.5 100.4,-7.2 101.8,-6.8 102.1,-6.25 101.1,-5.7 100.2,-6.5 99.7,-6.9 99,-8 98.3,-8 98.3,-9 98.6,-10 99.2,-11.6 99.2,-13 98.2,-15.2 98.6,-16.2Z"/>
<path id="c155" vector-effect="non-scaling-stroke" d="M100.1,-20.35 101.15,-21.6 101.8,-21.2 102.2,-22.4 102.9,-21.7 103.2,-20.8 104.6,-20.4 104,-19.5 105.2,-18.7 106.5,-17 107.5,-16 107.6,-15.2 107.5,-14.6 106,-14.35 105.5,-14.4 105.6,-15.5 104.8,-16.3 104.8,-17.4 104,-18.3 103.2,-18.3 102.1,-18.2 101,-17.8 101.2,-19.6 100.5,-19.5Z"/>
<path id="c156" vector-effect="non-scaling-stroke" d="M102.2,-22.4 103,-22.6 104.8,-23 105.4,-23.3 106.7,-22.8 106.7,-22 108,-21.5 106.8,-20.8 105.8,-19.3 106.4,-18.2 107.1,-17 108.3,-16 109.2,-14.5 109.4,-12.5 108.9,-11.3 107.3,-10.4 106.7,-9.6 105.2,-8.6 104.8,-8.6 104.9,-10 104.45,-10.4 105.2,-10.9 106.2,-11 105.9,-11.7 106.5,-11.9 107.5,-12.4 107.5,-14.6 107.6,-15.2 107.5,-16 106.5,-17 105.2,-18.7 104,-19.5 104.6,-20.4 103.2,-20.8 102.9,-21.7Z"/>
<path id="c157" vector-effect="non-scaling-stroke" d="M102.9,-11.7 102.5,-13.6 103,-14.3 105.5,-14.4 106,-14.35 107.5,-14.6 107.5,-12.4 106.5,-11.9 105.9,-11.7 106.2,-11 105.2,-10.9 104.45,-10.4 103.6,-10.5 103.1,-11Z"/>
<path id="c158" vector-effect="non-scaling-stroke" d="M100.2,-6.5 101.1,-5.7 102.1,-6.25 103.4,-4.8 103.4,-3.5 104.2,-1.4 103.5,-1.3 101.3,-2.9 100.6,-4.2 100.3,-5.5ZM109.65,-2.05 110.35,-1.7 111,-1.55 111.2,-2.05 111.4,-2.4 112,-2.85 113.05,-3.2 113.95,-4.55 114.1,-4.6 114.6,-4 115.3,-4.3 115.2,-5 115.55,-5.5 116.05,-5.95 116.15,-6.2 116.75,-7 117.25,-6.9 117.65,-6.4 118.1,-5.85 118.65,-5.55 119.25,-5.2 118.3,-5 118.6,-4.45 118.2,-4.35 117.6,-4.15 115.9,-4.3 115.6,-3.2 114.7,-2 114.8,-1.5 113,-1.4 112,-1.2 110.5,-0.85 109.7,-1.5Z"/>
<path id="c159" vector-effect="non-scaling-stroke" d="M114.1,-4.6 115.2,-5 115.3,-4.3 114.6,-4Z"/>
<path id="c160" vector-effect="non-scaling-stroke" d="M103.6,-1.25 104,-1.3 103.9,-1.45 103.65,-1.4Z"/>
<path id="c161" vector-effect="non-scaling-stroke" d="M95.3,-5.55 96,-5.25 97.5,-5.25 98.3,-4.05 98.7,-3.75 99.9,-2.95 100.4,-2.35 100.9,-2 101.5,-1.75 102.2,-1.3 102.9,-0.9 103.1,-0.45 103.8,0 103.45,0.75 103.5,1 104.4,1.05 104.55,1.9 104.9,2.3 105.6,2.4 106.05,3.05 105.85,3.7 105.9,4.4 105.85,5 105.8,5.85 105.3,5.8 104.55,5.9 104,5.1 103.3,4.85 102.3,3.95 101.4,2.7 100.85,2.1 100.35,0.95 99.75,-0.15 99.1,-0.45 98.8,-1.7 97.75,-2.3 97.15,-3.25 96.45,-3.7 96.1,-4.15 95.4,-4.85 95.2,-5.45ZM105.2,6.8 106.2,5.95 108.3,6.4 110.5,6.9 111,6.5 112.7,6.9 114.5,7.8 114.4,8.6 111,8.3 108.5,7.8 106.4,7.4ZM109.65,-2.05 109.7,-1.5 110.5,-0.85 112,-1.2 113,-1.4 114.8,-1.5 114.7,-2 115.6,-3.2 115.9,-4.3 117.6,-4.15 117.45,-3.6 117.7,-2.9 117.85,-2 118.1,-1.5 118.95,-0.9 117.8,-0.8 117.55,-0.1 117.5,0.6 117.35,0.75 116.8,1.3 116.3,1.75 116.5,2.45 116.3,3.3 115.9,3.65 114.7,4.15 114.5,3.5 113.7,3.45 113,3.2 111.85,3.55 111.7,3 110.9,3.05 110.2,2.9 110.05,1.75 109.95,1.3 109.6,1 109.1,0.5 109.15,-0.3 108.9,-0.85 109,-1.55ZM119.7,0.1 119.9,-0.9 121,-1.3 123.5,-0.9 125.2,-1.6 124.3,-0.4 121.5,-0.5 120.2,-0.3 120.1,0.9 121.5,0.9 123.4,0.8 122.8,1.4 121.5,1.9 122.3,3.3 123,4.3 122.5,5.4 121.8,4.7 121.4,3.8 120.9,2.7 120.4,3.5 120.4,5.5 119.5,5.5 119.5,3.5 118.8,2.8 119.3,1.5ZM141,2.6 141,9.1 139.8,8.1 138,8.4 138.9,7.2 138,5.5 135.5,4.4 133.5,3.9 132.8,4 132.3,2.9 133.8,2.3 132,2.2 130.9,1.3 131.3,0.8 132.5,0.4 134.1,0.8 134.2,2.4 135.3,3.3 137.2,1.6 139,2ZM114.5,8.2 115.7,8.2 115.5,8.8 114.6,8.6ZM115.9,8.3 116.7,8.3 116.5,8.9 116,8.8ZM116.8,8.4 119,8.3 119.1,8.8 117,9ZM119.9,8.4 122.9,8.2 122.8,8.8 120,8.8ZM119,9.4 120.8,9.9 120.2,10.2 119,9.7ZM123.5,10.3 124.4,9.2 125.1,8.7 125,9.5 124,10.2ZM127.4,-1 127.9,-2.1 128.7,-1.5 128,-0.6 128.7,-0.3 127.9,0.8 127.7,-0.3ZM127.9,3.2 129.5,2.8 130.8,3.4 129.5,3.4 128.2,3.5ZM126,3.2 127,3.1 127.2,3.7 126.2,3.7ZM105.2,1.6 106,1.6 106.7,3 106,2.8ZM107.6,2.6 108.3,2.8 108,3.2ZM97,-1.3 97.9,-0.6 97.5,-1.2ZM98.6,1 99.3,1.7 98.9,1.7ZM131,7.5 131.7,7.2 131.5,8ZM134.2,5.8 134.8,6 134.4,6.8ZM124.3,1.7 125.3,1.8 126,1.9 124.5,2Z"/>
<path id="c162" vector-effect="non-scaling-stroke" d="M125.1,8.7 127.3,8.4 126.5,9 125,9.5Z"/>
<path id="c163" vector-effect="non-scaling-stroke" d="M120.6,-18.5 122.2,-18.5 122.3,-17 121.6,-16 121.6,-15 122,-14.1 124,-13 124,-12.6 123.3,-13.1 122.5,-13.8 121,-13.7 120.6,-14.3 120.9,-14.7 120.1,-15 119.8,-16.3 120.4,-16.6 120.4,-17.7ZM122,-7 123.5,-8.6 125.5,-9.8 126.4,-8.5 126.5,-6.9 125.5,-5.8 125.3,-6.8 124,-6.5 124,-7.5 122.2,-6.9ZM124.3,-12.5 125.5,-12.3 125.7,-11.2 125,-10 124.8,-10.9 124.4,-11.4ZM122,-11.8 123.1,-11.6 123.2,-10.5 124,-10.2 123.4,-9.2 122.5,-9.8 122.4,-10.6 121.9,-11ZM117.2,-8.4 118.5,-9.5 119.5,-11.3 119,-10.4 117.8,-9ZM120.5,-13.5 121.5,-13.2 121.2,-12.3 120.7,-12.9Z"/>
<path id="c164" vector-effect="non-scaling-stroke" d="M130.7,-42.3 131.2,-43.5 131.3,-44.9 133,-45.1 134.8,-48.4 130.8,-47.7 130.5,-48.9 127.5,-49.8 126,-52.7 123.5,-53.5 120.9,-53.3 120,-52.7 120.7,-52 119,-50 117.8,-49.5 116.7,-49.8 115.5,-48.1 116,-47.8 117.4,-47.65 118.5,-47.9 119.8,-46.6 117.4,-46.5 115.7,-45.5 114.5,-45.2 113.5,-44.8 111.9,-43.7 111,-43.4 109.5,-42.5 107,-42.4 105,-41.6 101,-42.6 97,-42.75 96.3,-44 95.4,-44.3 93.5,-44.9 91,-45.3 90.7,-46.5 91,-47 90,-47.8 88,-48.6 87.8,-49.2 87.3,-49.1 85.8,-48.4 85.5,-47.1 83,-47.2 82.3,-45.5 80,-45 80.8,-43.2 80.2,-42.2 78.4,-41.4 76.8,-41 76,-40.4 74.8,-40.5 73.8,-39.8 73.6,-39.45 73.8,-38.6 74.9,-38.4 74.9,-37.25 75.8,-36.7 77.8,-35.5 79,-34.3 78.9,-33 78.4,-32.5 79.5,-31 81.1,-30.2 82,-30.3 84,-28.9 86,-28 88.1,-27.9 88.8,-28 89.5,-28.1 90.3,-28.3 91.7,-27.8 93.5,-28.8 95,-29.3 96.3,-29.3 97.3,-28.3 98.3,-27.6 98.7,-26 97.6,-24.8 97.6,-23.9 98.9,-23.2 99.3,-22.1 100.3,-21.5 101.15,-21.6 101.8,-21.2 102.2,-22.4 103,-22.6 104.8,-23 105.4,-23.3 106.7,-22.8 106.7,-22 108,-21.5 109.5,-21.5 109.7,-20.9 110,-20.3 110.5,-20.5 110.5,-21.2 111.8,-21.6 113.5,-22.2 114.3,-22.4 115.5,-22.7 117,-23.5 118.5,-24.6 119.7,-25.6 120,-26.7 121,-28.2 121.9,-29.2 122,-30 120.8,-30.3 121.9,-30.9 121.9,-31.7 120.9,-32.6 120.2,-34.3 119.2,-35 120.3,-36 122.5,-36.9 122.6,-37.4 121,-37.6 119,-37.2 118.9,-37.9 117.7,-38.4 117.7,-39.1 119,-39.3 121,-40.8 122.2,-40.5 121.2,-39 121.7,-39 122.3,-39.4 124.3,-39.95 126,-41 126.9,-41.8 128.1,-41.4 128.2,-42 129.8,-42.7 130.3,-42.9ZM108.7,-19.3 109.5,-20 110.8,-20 111,-19.6 110.5,-18.8 109.6,-18.2 108.7,-18.5Z"/>
<path id="c165" vector-effect="non-scaling-stroke" d="M121,-25 121.9,-25 121.9,-24.6 121.5,-23.3 120.9,-22 120.1,-23 120.3,-24Z"/>
<path id="c166" vector-effect="non-scaling-stroke" d="M87.8,-49.2 88,-48.6 90,-47.8 91,-47 90.7,-46.5 91,-45.3 93.5,-44.9 95.4,-44.3 96.3,-44 97,-42.75 101,-42.6 105,-41.6 107,-42.4 109.5,-42.5 111,-43.4 111.9,-43.7 113.5,-44.8 114.5,-45.2 115.7,-45.5 117.4,-46.5 119.8,-46.6 118.5,-47.9 117.4,-47.65 116,-47.8 115.5,-48.1 116.7,-49.8 114.8,-50.2 111,-49.3 107.5,-49.9 105,-50.4 102.3,-50.6 102,-51.4 98.8,-52.1 98,-50 95,-50 92.5,-50.8 89.5,-49.6Z"/>
<path id="c167" vector-effect="non-scaling-stroke" d="M124.3,-39.95 126,-41 126.9,-41.8 128.1,-41.4 128.2,-42 129.8,-42.7 130.3,-42.9 130.7,-42.3 129.7,-41.4 129.7,-40.9 128,-40 127.5,-39.5 128.3,-38.6 127,-38.3 126.7,-37.8 126.1,-37.75 125.2,-37.8 124.7,-38.1 125.2,-39.2 125.3,-39.5Z"/>
<path id="c168" vector-effect="non-scaling-stroke" d="M126.1,-37.75 126.7,-37.8 127,-38.3 128.3,-38.6 129.4,-37 129.5,-35.7 129.2,-35.2 128,-34.8 126.5,-34.4 126.4,-35.5 126.6,-36.8 126.7,-37.5ZM126.2,-33.3 126.9,-33.5 126.6,-33.2Z"/>
<path id="c169" vector-effect="non-scaling-stroke" d="M140.9,-41.5 141.5,-40.5 142,-39.5 141,-38.3 141,-37 140.8,-35.7 139.8,-35 138.8,-34.7 137,-34.6 136.8,-34.3 135.8,-33.5 135.1,-34.3 135.3,-34.7 134,-34.6 132.5,-34.3 131,-34 130.9,-34.3 131.5,-34.7 132.7,-35.5 134.3,-35.6 135.8,-35.6 136.7,-36.8 137.3,-37.5 137.3,-36.8 138.5,-37.4 139.5,-38.5 140,-39.9 140,-40.6 140.3,-41.2ZM140,-41.5 140.3,-42.3 140,-43 141.4,-43.3 141.7,-45.4 143,-44.3 145.3,-44.3 145.7,-43.3 143.3,-42 141.8,-42.6 141,-42.3 141.1,-41.8ZM129.8,-33.2 131,-33.9 131.9,-33.2 131.4,-31.4 130.7,-31 130.2,-31.3 130.2,-32.5 129.7,-32.7ZM132.5,-33.7 134.3,-34.3 134.7,-33.8 134.2,-33.3 133,-32.8 132.4,-33.3ZM127.7,-26.1 128.3,-26.8 128,-26.3Z"/>
<path id="c170" vector-effect="non-scaling-stroke" d="M141,2.6 142.5,3.2 144.5,3.8 145.8,5.4 147.5,6 147.9,6.7 147,6.8 148.2,8.1 149.3,9 150.8,10.3 150,10.6 147.9,10.1 146.8,9.3 146,8 144.5,7.6 143.5,8.3 143.3,9 141,9.1ZM148.3,5.7 150,5.5 152.2,4.2 152.3,5 150.5,6.3 148.4,5.9ZM150.8,2.6 152.8,3.9 153,4.7 152.3,4 150.7,2.9ZM154.7,5.4 155.9,6.8 155.2,6.5ZM146.6,2 147.4,2.1 147,2.3Z"/>
<path id="c171" vector-effect="non-scaling-stroke" d="M156.5,6.7 157.5,7.3 157,7.3ZM158.6,7.6 159.8,8.4 159.3,8.3ZM159.6,9.3 160.8,9.8 160.3,9.9ZM160.7,8.4 161.3,9.5 160.9,9ZM161.3,10.3 162.3,10.8 161.8,10.7Z"/>
<path id="c172" vector-effect="non-scaling-stroke" d="M166.6,15 167.2,15.5 166.8,15.6ZM167.2,16 167.8,16.5 167.4,16.5ZM168.2,17.6 168.5,17.8 168.2,17.8Z"/>
<path id="c173" vector-effect="non-scaling-stroke" d="M164,20.1 165.5,21 167,22.3 166.3,22.2 164.8,21.2Z"/>
<path id="c174" vector-effect="non-scaling-stroke" d="M177.3,17.4 178.5,17.6 178.4,18.2 177.4,18.1ZM178.8,16.6 180,16.2 179.3,16.8Z"/>
<path id="c175" vector-effect="non-scaling-stroke" d="M114.1,21.8 116.7,20.5 119,20 121.5,19 122.3,17.2 122.9,16.4 123.6,17.3 124.5,16.3 125.2,15 126.8,13.9 128.2,14.8 129.6,14.9 129.5,14 130.5,12.6 130.9,12.4 132.6,12 132,11.2 132.6,11.5 135,12.1 136.8,12.2 136,13.5 135.5,14.9 137,15.9 139,16.9 140.8,17.5 141.5,15 141.6,12.6 142.1,11 142.5,10.7 143.5,12.8 143.8,14.4 145.3,14.9 145.4,16.4 146.1,18.3 148.5,20 149.5,22.2 150.8,23.5 152.8,25.3 153.2,27.5 153.6,28.6 153,31 151.8,33 150.8,35 150,37.2 148,37.9 146.3,39.1 145,38.3 143.5,38.8 141,38.1 139.7,37 139.5,35.8 138.1,35.6 138.5,34.8 137.8,35.2 137,35.2 137.8,33 137.8,32.6 136,34.8 135.6,34.9 134.2,33 133.5,32.1 131.2,31.5 128.9,31.7 126,32.3 124,33 123.5,33.9 120,33.9 118,35 116,34.9 115,34.3 115.7,32 115,30 114.2,27.5 113.5,26 113.7,24 113.5,22.6ZM144.7,40.7 146.5,41.1 148.3,40.9 148.3,42.2 147.5,43.2 146.2,43.6 145.3,42.5ZM136.6,35.7 137.6,35.6 138,35.9 136.8,36ZM130.3,11.4 131.3,11.3 131,11.8ZM136.4,13.8 136.9,14 136.6,14.3ZM153.1,24.8 153.3,25.5 153,25.7Z"/>
<path id="c176" vector-effect="non-scaling-stroke" d="M172.7,34.4 174.3,35.5 175.5,36.6 176,37.6 178,37.6 178.5,37.7 177.8,39.2 177,39.6 176.9,40.3 175.3,41.6 174.8,41.2 175.2,40.2 173.8,39.3 174.6,38.7 174.8,37.4 174.2,36.3 173,35.2ZM172.7,40.5 174.2,41.1 174.2,41.8 172.8,43.3 173,43.9 171.3,44.3 170.8,45.9 169.5,46.6 168.3,46.6 166.5,46 167.8,44.6 168.8,43.9 170.8,42.9 171.5,41.8 172.1,40.9ZM167.6,46.8 168.2,46.9 167.8,47.2Z"/>
<path id="c177" vector-effect="non-scaling-stroke" d="M35,-31.35 34.95,-31.6 35.05,-32.2 35.2,-32.55 35.55,-32.4 35.55,-31.8 35.45,-31.5 35.4,-31.25ZM34.2,-31.3 34.5,-31.6 34.57,-31.5 34.3,-31.22Z"/>
<path id="c178" vector-effect="non-scaling-stroke" d="M-61.8,-16 -61.2,-16.2 -61.5,-16.5ZM-61.5,-15.3 -61.25,-15.4 -61.4,-15.65ZM-61.2,-14.45 -60.85,-14.6 -61.1,-14.85ZM-61.05,-13.75 -60.9,-13.9 -61,-14.1ZM-59.65,-13.1 -59.45,-13.2 -59.6,-13.3ZM-61.25,-13.15 -61.15,-13.3 -61.25,-13.35ZM-61.8,-12 -61.6,-12.1 -61.7,-12.25ZM-61.9,-17 -61.7,-17.1 -61.85,-17.2ZM-62.85,-17.3 -62.6,-17.3 -62.7,-17.45ZM-64.9,-18.3 -64.6,-18.3 -64.75,-18.4ZM-63.1,-18.05 -63,-18.1 -63.1,-18.2ZM-64.9,-17.7 -64.6,-17.75 -64.75,-17.8ZM-68.4,-12.1 -68.2,-12.2 -68.3,-12.3ZM-69.1,-12.1 -68.8,-12.15 -68.95,-12.4ZM-70.05,-12.45 -69.9,-12.5 -70,-12.6ZM-72.3,-21.8 -71.6,-21.8 -71.9,-21.95ZM-81.4,-19.3 -81.1,-19.3 -81.25,-19.4ZM-82.9,-21.5 -82.6,-21.5 -82.7,-21.9Z"/>
<path id="c179" vector-effect="non-scaling-stroke" d="M25.8,-39.2 26.5,-39.35 26.6,-39.05 26,-38.95ZM25.85,-38.55 26.15,-38.55 26.1,-38.2 25.9,-38.25ZM26.6,-37.8 27.05,-37.75 26.8,-37.65ZM25.35,-37.15 25.6,-37.2 25.55,-36.95 25.4,-36.95ZM24.7,-37.95 24.95,-37.9 24.85,-37.7ZM25.1,-37.6 25.3,-37.55 25.2,-37.45ZM24.3,-37.65 24.45,-37.6 24.4,-37.45ZM25,-36.75 25.25,-36.75 25.15,-36.65ZM24.4,-36.75 24.55,-36.7 24.45,-36.65ZM25.4,-36.45 25.5,-36.4 25.45,-36.35ZM26.9,-36.8 27.3,-36.85 27.1,-36.7ZM27.1,-35.6 27.25,-35.9 27.15,-35.45ZM25.55,-40.15 25.7,-40.2 25.65,-40.1ZM24.55,-40.7 24.75,-40.75 24.7,-40.6ZM25.45,-40.5 25.7,-40.5 25.6,-40.4ZM25.05,-39.85 25.4,-39.95 25.25,-39.8ZM24.5,-38.9 24.65,-38.85 24.55,-38.75ZM23.4,-39.2 23.5,-39.15 23.45,-39.1ZM20.4,-38.3 20.7,-38.3 20.6,-38.05ZM19.65,-39.75 19.9,-39.8 20.1,-39.4 19.85,-39.45ZM20.65,-38.8 20.75,-38.7 20.6,-38.6ZM20.65,-37.9 20.95,-37.75 20.85,-37.65ZM22.9,-36.3 23.1,-36.25 23,-36.15ZM23.35,-37.75 23.55,-37.75 23.45,-37.65Z"/>
<g id="mA">
<g fill="#2166AC"><use href="#c17"/><use href="#c86"/><use href="#c125"/><use href="#c126"/><use href="#c150"/><use href="#c172"/></g>
<g fill="#4393C3"><use href="#c4"/><use href="#c87"/><use href="#c101"/><use href="#c123"/><use href="#c136"/><use href="#c139"/><use href="#c159"/><use href="#c162"/><use href="#c171"/><use href="#c174"/></g>
<g fill="#92C5DE"><use href="#c18"/><use href="#c21"/><use href="#c22"/><use href="#c83"/><use href="#c89"/><use href="#c90"/><use href="#c100"/><use href="#c102"/><use href="#c110"/><use href="#c119"/><use href="#c120"/><use href="#c122"/><use href="#c127"/><use href="#c138"/><use href="#c170"/></g>
<g fill="#D1E5F0"><use href="#c5"/><use href="#c6"/><use href="#c7"/><use href="#c16"/><use href="#c44"/><use href="#c58"/><use href="#c71"/><use href="#c88"/><use href="#c93"/><use href="#c96"/><use href="#c98"/><use href="#c133"/><use href="#c137"/><use href="#c143"/><use href="#c144"/><use href="#c145"/><use href="#c166"/><use href="#c177"/><use href="#c178"/></g>
<g fill="#F7F7F7"><use href="#c3"/><use href="#c9"/><use href="#c13"/><use href="#c14"/><use href="#c15"/><use href="#c28"/><use href="#c32"/><use href="#c57"/><use href="#c59"/><use href="#c68"/><use href="#c78"/><use href="#c79"/><use href="#c82"/><use href="#c84"/><use href="#c85"/><use href="#c91"/><use href="#c94"/><use href="#c95"/><use href="#c109"/><use href="#c111"/><use href="#c116"/><use href="#c117"/><use href="#c131"/><use href="#c160"/><use href="#c173"/></g>
<g fill="#FDDBC7"><use href="#c8"/><use href="#c11"/><use href="#c12"/><use href="#c38"/><use href="#c53"/><use href="#c67"/><use href="#c73"/><use href="#c92"/><use href="#c99"/><use href="#c103"/><use href="#c105"/><use href="#c112"/><use href="#c113"/><use href="#c115"/><use href="#c118"/><use href="#c124"/><use href="#c128"/><use href="#c135"/><use href="#c149"/></g>
<g fill="#F4A582"><use href="#c24"/><use href="#c27"/><use href="#c29"/><use href="#c35"/><use href="#c51"/><use href="#c55"/><use href="#c63"/><use href="#c66"/><use href="#c72"/><use href="#c74"/><use href="#c77"/><use href="#c81"/><use href="#c106"/><use href="#c107"/><use href="#c129"/><use href="#c130"/><use href="#c132"/><use href="#c134"/><use href="#c142"/><use href="#c146"/><use href="#c152"/><use href="#c157"/><use href="#c176"/></g>
<g fill="#D6604D"><use href="#c10"/><use href="#c20"/><use href="#c25"/><use href="#c31"/><use href="#c33"/><use href="#c34"/><use href="#c36"/><use href="#c42"/><use href="#c46"/><use href="#c47"/><use href="#c54"/><use href="#c56"/><use href="#c61"/><use href="#c65"/><use href="#c75"/><use href="#c76"/><use href="#c104"/><use href="#c114"/><use href="#c141"/><use href="#c167"/></g>
<g fill="#B2182B"><use href="#c2"/><use href="#c19"/><use href="#c43"/><use href="#c50"/><use href="#c52"/><use href="#c60"/><use href="#c62"/><use href="#c80"/><use href="#c97"/><use href="#c108"/><use href="#c121"/><use href="#c140"/><use href="#c147"/><use href="#c153"/><use href="#c155"/><use href="#c158"/><use href="#c175"/><use href="#c179"/></g>
<g fill="#67001F"><use href="#c0"/><use href="#c1"/><use href="#c23"/><use href="#c26"/><use href="#c30"/><use href="#c37"/><use href="#c39"/><use href="#c40"/><use href="#c41"/><use href="#c45"/><use href="#c48"/><use href="#c49"/><use href="#c64"/><use href="#c69"/><use href="#c70"/><use href="#c148"/><use href="#c151"/><use href="#c154"/><use href="#c156"/><use href="#c161"/><use href="#c163"/><use href="#c164"/><use href="#c165"/><use href="#c168"/><use href="#c169"/></g>
</g>
<g id="mB">
<g fill="#2166AC"><use href="#c77"/><use href="#c88"/><use href="#c89"/><use href="#c90"/><use href="#c91"/><use href="#c96"/><use href="#c117"/><use href="#c125"/><use href="#c136"/><use href="#c142"/><use href="#c145"/><use href="#c148"/><use href="#c149"/><use href="#c150"/><use href="#c151"/><use href="#c170"/><use href="#c171"/><use href="#c172"/><use href="#c174"/></g>
<g fill="#4393C3"><use href="#c4"/><use href="#c5"/><use href="#c6"/><use href="#c7"/><use href="#c81"/><use href="#c84"/><use href="#c85"/><use href="#c86"/><use href="#c92"/><use href="#c93"/><use href="#c94"/><use href="#c95"/><use href="#c97"/><use href="#c98"/><use href="#c99"/><use href="#c104"/><use href="#c107"/><use href="#c109"/><use href="#c112"/><use href="#c113"/><use href="#c115"/><use href="#c120"/><use href="#c128"/><use href="#c132"/><use href="#c135"/><use href="#c147"/><use href="#c152"/></g>
<g fill="#92C5DE"><use href="#c2"/><use href="#c3"/><use href="#c58"/><use href="#c74"/><use href="#c75"/><use href="#c76"/><use href="#c80"/><use href="#c83"/><use href="#c87"/><use href="#c103"/><use href="#c105"/><use href="#c110"/><use href="#c114"/><use href="#c124"/><use href="#c134"/><use href="#c140"/><use href="#c143"/><use href="#c144"/><use href="#c166"/></g>
<g fill="#D1E5F0"><use href="#c12"/><use href="#c20"/><use href="#c24"/><use href="#c25"/><use href="#c100"/><use href="#c119"/><use href="#c121"/><use href="#c123"/><use href="#c131"/><use href="#c133"/><use href="#c139"/></g>
<g fill="#F7F7F7"><use href="#c9"/><use href="#c19"/><use href="#c26"/><use href="#c28"/><use href="#c32"/><use href="#c35"/><use href="#c78"/><use href="#c82"/><use href="#c106"/><use href="#c111"/><use href="#c122"/><use href="#c126"/><use href="#c127"/><use href="#c141"/><use href="#c153"/><use href="#c155"/><use href="#c156"/><use href="#c157"/><use href="#c160"/><use href="#c161"/><use href="#c162"/><use href="#c163"/><use href="#c165"/><use href="#c167"/><use href="#c168"/><use href="#c173"/></g>
<g fill="#FDDBC7"><use href="#c1"/><use href="#c18"/><use href="#c38"/><use href="#c46"/><use href="#c47"/><use href="#c101"/><use href="#c102"/><use href="#c116"/><use href="#c118"/><use href="#c129"/><use href="#c138"/><use href="#c146"/><use href="#c154"/></g>
<g fill="#F4A582"><use href="#c0"/><use href="#c21"/><use href="#c22"/><use href="#c27"/><use href="#c31"/><use href="#c70"/><use href="#c71"/><use href="#c130"/><use href="#c137"/><use href="#c164"/><use href="#c175"/></g>
<g fill="#D6604D"><use href="#c8"/><use href="#c11"/><use href="#c13"/><use href="#c14"/><use href="#c16"/><use href="#c23"/><use href="#c34"/><use href="#c37"/><use href="#c39"/><use href="#c42"/><use href="#c44"/><use href="#c45"/><use href="#c48"/><use href="#c53"/><use href="#c60"/><use href="#c73"/><use href="#c79"/><use href="#c108"/><use href="#c169"/><use href="#c177"/><use href="#c178"/><use href="#c179"/></g>
<g fill="#B2182B"><use href="#c10"/><use href="#c15"/><use href="#c33"/><use href="#c40"/><use href="#c41"/><use href="#c55"/><use href="#c63"/><use href="#c64"/><use href="#c65"/><use href="#c66"/><use href="#c67"/><use href="#c68"/><use href="#c72"/><use href="#c158"/><use href="#c159"/><use href="#c176"/></g>
<g fill="#67001F"><use href="#c17"/><use href="#c29"/><use href="#c30"/><use href="#c36"/><use href="#c43"/><use href="#c49"/><use href="#c50"/><use href="#c51"/><use href="#c52"/><use href="#c54"/><use href="#c56"/><use href="#c57"/><use href="#c59"/><use href="#c61"/><use href="#c62"/><use href="#c69"/></g>
</g>
<g id="mC">
<g fill="#2166AC"><use href="#c17"/><use href="#c86"/><use href="#c125"/><use href="#c126"/><use href="#c150"/><use href="#c172"/></g>
<g fill="#4393C3"><use href="#c4"/><use href="#c18"/><use href="#c87"/><use href="#c101"/><use href="#c123"/><use href="#c136"/><use href="#c139"/><use href="#c159"/><use href="#c162"/><use href="#c171"/><use href="#c174"/></g>
<g fill="#92C5DE"><use href="#c21"/><use href="#c22"/><use href="#c71"/><use href="#c83"/><use href="#c89"/><use href="#c90"/><use href="#c102"/><use href="#c110"/><use href="#c119"/><use href="#c120"/><use href="#c122"/><use href="#c127"/><use href="#c138"/><use href="#c177"/></g>
<g fill="#D1E5F0"><use href="#c5"/><use href="#c6"/><use href="#c7"/><use href="#c16"/><use href="#c44"/><use href="#c58"/><use href="#c59"/><use href="#c88"/><use href="#c93"/><use href="#c96"/><use href="#c98"/><use href="#c100"/><use href="#c117"/><use href="#c133"/><use href="#c143"/><use href="#c144"/><use href="#c145"/><use href="#c166"/><use href="#c170"/><use href="#c178"/></g>
<g fill="#F7F7F7"><use href="#c9"/><use href="#c13"/><use href="#c14"/><use href="#c15"/><use href="#c28"/><use href="#c32"/><use href="#c57"/><use href="#c68"/><use href="#c78"/><use href="#c82"/><use href="#c84"/><use href="#c85"/><use href="#c91"/><use href="#c94"/><use href="#c95"/><use href="#c109"/><use href="#c111"/><use href="#c116"/><use href="#c129"/><use href="#c137"/><use href="#c160"/><use href="#c173"/></g>
<g fill="#FDDBC7"><use href="#c3"/><use href="#c8"/><use href="#c11"/><use href="#c12"/><use href="#c38"/><use href="#c55"/><use href="#c63"/><use href="#c66"/><use href="#c67"/><use href="#c73"/><use href="#c79"/><use href="#c99"/><use href="#c103"/><use href="#c112"/><use href="#c113"/><use href="#c115"/><use href="#c118"/><use href="#c124"/><use href="#c128"/><use href="#c131"/></g>
<g fill="#F4A582"><use href="#c24"/><use href="#c27"/><use href="#c29"/><use href="#c33"/><use href="#c35"/><use href="#c53"/><use href="#c72"/><use href="#c74"/><use href="#c77"/><use href="#c81"/><use href="#c92"/><use href="#c105"/><use href="#c106"/><use href="#c107"/><use href="#c130"/><use href="#c135"/><use href="#c142"/><use href="#c146"/><use href="#c149"/><use href="#c152"/><use href="#c157"/><use href="#c176"/></g>
<g fill="#D6604D"><use href="#c10"/><use href="#c20"/><use href="#c25"/><use href="#c34"/><use href="#c36"/><use href="#c46"/><use href="#c47"/><use href="#c51"/><use href="#c54"/><use href="#c56"/><use href="#c60"/><use href="#c61"/><use href="#c65"/><use href="#c75"/><use href="#c76"/><use href="#c104"/><use href="#c114"/><use href="#c132"/><use href="#c134"/><use href="#c141"/><use href="#c167"/><use href="#c179"/></g>
<g fill="#B2182B"><use href="#c0"/><use href="#c19"/><use href="#c31"/><use href="#c42"/><use href="#c43"/><use href="#c50"/><use href="#c52"/><use href="#c62"/><use href="#c80"/><use href="#c97"/><use href="#c108"/><use href="#c121"/><use href="#c140"/><use href="#c147"/><use href="#c153"/><use href="#c155"/><use href="#c158"/><use href="#c175"/></g>
<g fill="#67001F"><use href="#c1"/><use href="#c2"/><use href="#c23"/><use href="#c26"/><use href="#c30"/><use href="#c37"/><use href="#c39"/><use href="#c40"/><use href="#c41"/><use href="#c45"/><use href="#c48"/><use href="#c49"/><use href="#c64"/><use href="#c69"/><use href="#c70"/><use href="#c148"/><use href="#c151"/><use href="#c154"/><use href="#c156"/><use href="#c161"/><use href="#c163"/><use href="#c164"/><use href="#c165"/><use href="#c168"/><use href="#c169"/></g>
</g>
<g id="mD">
<g fill="#2166AC"><use href="#c77"/><use href="#c88"/><use href="#c89"/><use href="#c90"/><use href="#c91"/><use href="#c96"/><use href="#c97"/><use href="#c117"/><use href="#c125"/><use href="#c136"/><use href="#c145"/><use href="#c148"/><use href="#c149"/><use href="#c150"/><use href="#c151"/><use href="#c170"/><use href="#c171"/><use href="#c172"/><use href="#c174"/></g>
<g fill="#4393C3"><use href="#c3"/><use href="#c4"/><use href="#c5"/><use href="#c6"/><use href="#c7"/><use href="#c58"/><use href="#c83"/><use href="#c84"/><use href="#c85"/><use href="#c86"/><use href="#c92"/><use href="#c93"/><use href="#c94"/><use href="#c95"/><use href="#c98"/><use href="#c99"/><use href="#c104"/><use href="#c107"/><use href="#c109"/><use href="#c112"/><use href="#c113"/><use href="#c120"/><use href="#c128"/><use href="#c132"/><use href="#c142"/><use href="#c147"/><use href="#c152"/></g>
<g fill="#92C5DE"><use href="#c2"/><use href="#c25"/><use href="#c74"/><use href="#c75"/><use href="#c76"/><use href="#c81"/><use href="#c87"/><use href="#c103"/><use href="#c105"/><use href="#c110"/><use href="#c114"/><use href="#c115"/><use href="#c124"/><use href="#c133"/><use href="#c134"/><use href="#c135"/><use href="#c140"/><use href="#c143"/><use href="#c144"/></g>
<g fill="#D1E5F0"><use href="#c20"/><use href="#c80"/><use href="#c100"/><use href="#c119"/><use href="#c121"/><use href="#c123"/><use href="#c131"/><use href="#c139"/><use href="#c166"/></g>
<g fill="#F7F7F7"><use href="#c9"/><use href="#c18"/><use href="#c19"/><use href="#c24"/><use href="#c28"/><use href="#c32"/><use href="#c35"/><use href="#c46"/><use href="#c47"/><use href="#c71"/><use href="#c78"/><use href="#c106"/><use href="#c111"/><use href="#c122"/><use href="#c126"/><use href="#c127"/><use href="#c129"/><use href="#c138"/><use href="#c153"/><use href="#c155"/><use href="#c156"/><use href="#c160"/><use href="#c161"/><use href="#c162"/><use href="#c163"/><use href="#c165"/><use href="#c167"/><use href="#c168"/><use href="#c173"/></g>
<g fill="#FDDBC7"><use href="#c26"/><use href="#c34"/><use href="#c38"/><use href="#c82"/><use href="#c101"/><use href="#c102"/><use href="#c130"/><use href="#c137"/><use href="#c141"/><use href="#c157"/></g>
<g fill="#F4A582"><use href="#c0"/><use href="#c1"/><use href="#c12"/><use href="#c21"/><use href="#c22"/><use href="#c27"/><use href="#c31"/><use href="#c44"/><use href="#c45"/><use href="#c48"/><use href="#c60"/><use href="#c70"/><use href="#c116"/><use href="#c118"/><use href="#c175"/><use href="#c179"/></g>
<g fill="#D6604D"><use href="#c11"/><use href="#c16"/><use href="#c23"/><use href="#c37"/><use href="#c39"/><use href="#c40"/><use href="#c41"/><use href="#c42"/><use href="#c53"/><use href="#c73"/><use href="#c79"/><use href="#c108"/><use href="#c146"/><use href="#c154"/><use href="#c164"/><use href="#c169"/><use href="#c177"/><use href="#c178"/></g>
<g fill="#B2182B"><use href="#c8"/><use href="#c10"/><use href="#c13"/><use href="#c14"/><use href="#c15"/><use href="#c33"/><use href="#c36"/><use href="#c50"/><use href="#c55"/><use href="#c59"/><use href="#c63"/><use href="#c64"/><use href="#c66"/><use href="#c67"/><use href="#c68"/><use href="#c72"/><use href="#c158"/><use href="#c159"/><use href="#c176"/></g>
<g fill="#67001F"><use href="#c17"/><use href="#c29"/><use href="#c30"/><use href="#c43"/><use href="#c49"/><use href="#c51"/><use href="#c52"/><use href="#c54"/><use href="#c56"/><use href="#c57"/><use href="#c61"/><use href="#c62"/><use href="#c65"/><use href="#c69"/></g>
</g>
<clipPath id="kAcar"><rect x="25.6" y="566.0" width="137.7" height="223.0"/></clipPath>
<clipPath id="kAgulf"><rect x="163.3" y="566.0" width="137.4" height="223.0"/></clipPath>
<clipPath id="kAbalk"><rect x="300.7" y="566.0" width="137.7" height="223.0"/></clipPath>
<clipPath id="kAsea"><rect x="438.4" y="566.0" width="138.3" height="223.0"/></clipPath>
<clipPath id="kAwaf"><rect x="576.7" y="566.0" width="69.4" height="99.7"/></clipPath>
<clipPath id="kAmed"><rect x="646.1" y="566.0" width="68.6" height="99.7"/></clipPath>
<clipPath id="kAneu"><rect x="576.7" y="688.5" width="138.0" height="100.5"/></clipPath>
<clipPath id="kBcar"><rect x="774.5" y="566.0" width="132.0" height="223.0"/></clipPath>
<clipPath id="kBgulf"><rect x="906.5" y="566.0" width="132.0" height="223.0"/></clipPath>
<clipPath id="kBbalk"><rect x="1038.5" y="566.0" width="132.5" height="223.0"/></clipPath>
<clipPath id="kBsea"><rect x="1171.0" y="566.0" width="132.0" height="223.0"/></clipPath>
<clipPath id="kBwaf"><rect x="1303.0" y="566.0" width="66.2" height="99.7"/></clipPath>
<clipPath id="kBmed"><rect x="1369.2" y="566.0" width="65.3" height="99.7"/></clipPath>
<clipPath id="kBneu"><rect x="1303.0" y="688.5" width="131.5" height="100.5"/></clipPath>
<clipPath id="kCcar"><rect x="5.0" y="1512.0" width="141.5" height="252.0"/></clipPath>
<clipPath id="kCgulf"><rect x="146.5" y="1512.0" width="142.0" height="252.0"/></clipPath>
<clipPath id="kCbalk"><rect x="288.5" y="1512.0" width="142.0" height="252.0"/></clipPath>
<clipPath id="kCsea"><rect x="430.5" y="1512.0" width="142.0" height="252.0"/></clipPath>
<clipPath id="kCwaf"><rect x="572.5" y="1512.0" width="71.0" height="113.0"/></clipPath>
<clipPath id="kCmed"><rect x="643.5" y="1512.0" width="71.5" height="113.0"/></clipPath>
<clipPath id="kCneu"><rect x="572.5" y="1649.5" width="142.5" height="114.5"/></clipPath>
<clipPath id="kDcar"><rect x="766.5" y="1512.0" width="132.0" height="252.0"/></clipPath>
<clipPath id="kDgulf"><rect x="898.5" y="1512.0" width="132.5" height="252.0"/></clipPath>
<clipPath id="kDbalk"><rect x="1031.0" y="1512.0" width="132.0" height="252.0"/></clipPath>
<clipPath id="kDsea"><rect x="1163.0" y="1512.0" width="132.0" height="252.0"/></clipPath>
<clipPath id="kDwaf"><rect x="1295.0" y="1512.0" width="66.0" height="113.0"/></clipPath>
<clipPath id="kDmed"><rect x="1361.0" y="1512.0" width="66.0" height="113.0"/></clipPath>
<clipPath id="kDneu"><rect x="1295.0" y="1649.5" width="132.0" height="114.5"/></clipPath>
</defs>
<rect width="1440" height="1772" fill="#fff"/>
<g stroke="#2b2b2b" stroke-width="0.55" stroke-linejoin="round"><use href="#mA" transform="translate(362.40 277.80) scale(1.6920 3.0000)"/></g>
<g clip-path="url(#kAcar)" stroke="#333" stroke-width="0.6" stroke-linejoin="round"><use href="#mA" transform="translate(391.76 824.94) scale(3.9119 9.2149)"/></g>
<rect x="25.6" y="566.0" width="137.7" height="223.0" fill="none" stroke="#555" stroke-width="1"/>
<g clip-path="url(#kAgulf)" stroke="#333" stroke-width="0.6" stroke-linejoin="round"><use href="#mA" transform="translate(-392.55 1099.85) scale(12.4909 16.8939)"/></g>
<rect x="163.3" y="566.0" width="137.4" height="223.0" fill="none" stroke="#555" stroke-width="1"/>
<g clip-path="url(#kAbalk)" stroke="#333" stroke-width="0.6" stroke-linejoin="round"><use href="#mA" transform="translate(231.85 1173.06) scale(6.2591 11.2626)"/></g>
<rect x="300.7" y="566.0" width="137.7" height="223.0" fill="none" stroke="#555" stroke-width="1"/>
<g clip-path="url(#kAsea)" stroke="#333" stroke-width="0.6" stroke-linejoin="round"><use href="#mA" transform="translate(-48.16 666.24) scale(5.0291 11.2626)"/></g>
<rect x="438.4" y="566.0" width="138.3" height="223.0" fill="none" stroke="#555" stroke-width="1"/>
<g clip-path="url(#kAwaf)" stroke="#333" stroke-width="0.6" stroke-linejoin="round"><use href="#mA" transform="translate(687.11 709.97) scale(6.3091 6.9720)"/></g>
<rect x="576.7" y="566.0" width="69.4" height="99.7" fill="none" stroke="#555" stroke-width="1"/>
<g clip-path="url(#kAmed)" stroke="#333" stroke-width="0.6" stroke-linejoin="round"><use href="#mA" transform="translate(250.09 1099.24) scale(12.4727 15.1061)"/></g>
<rect x="646.1" y="566.0" width="68.6" height="99.7" fill="none" stroke="#555" stroke-width="1"/>
<g clip-path="url(#kAneu)" stroke="#333" stroke-width="0.6" stroke-linejoin="round"><use href="#mA" transform="translate(551.61 1149.89) scale(6.2727 7.6136)"/></g>
<rect x="576.7" y="688.5" width="138.0" height="100.5" fill="none" stroke="#555" stroke-width="1"/>
<text font-size="14.00" transform="translate(25.6 553.0) scale(0.645 1)">Caribbean and central America</text>
<text font-size="14.00" transform="translate(163.3 553.0) scale(0.645 1)">Persian Gulf</text>
<text font-size="14.00" transform="translate(300.7 553.0) scale(0.645 1)">Balkan Peninsula</text>
<text font-size="14.00" transform="translate(438.4 553.0) scale(0.645 1)">Sotheast Asia</text>
<text font-size="10.12" transform="translate(576.7 550.0) scale(0.684 1)">West Africa</text>
<text font-size="10.12" transform="translate(646.1 550.5) scale(0.671 1)">Eastern</text>
<text font-size="10.12" transform="translate(646.1 562.6) scale(0.671 1)">Mediterranean</text>
<text font-size="14.00" transform="translate(577.2 684.0) scale(0.645 1)">Northern Europe</text>
<text font-size="7.60" transform="translate(55.0 283.8) scale(0.690 1)">Deaths</text>
<rect x="55.0" y="291.7" width="11.7" height="20.3" fill="#2166AC" stroke="#777" stroke-width="0.4"/>
<text font-size="7.70" transform="translate(70.0 304.6) scale(0.717 1)">0.05 ~ 3.43</text>
<rect x="55.0" y="312.0" width="11.7" height="20.3" fill="#4393C3" stroke="#777" stroke-width="0.4"/>
<text font-size="7.70" transform="translate(70.0 324.9) scale(0.717 1)">3.43 ~ 12.60</text>
<rect x="55.0" y="332.3" width="11.7" height="20.3" fill="#92C5DE" stroke="#777" stroke-width="0.4"/>
<text font-size="7.70" transform="translate(70.0 345.2) scale(0.717 1)">12.60 ~ 33.84</text>
<rect x="55.0" y="352.6" width="11.7" height="20.3" fill="#D1E5F0" stroke="#777" stroke-width="0.4"/>
<text font-size="7.70" transform="translate(70.0 365.5) scale(0.717 1)">33.84 ~ 64.21</text>
<rect x="55.0" y="372.9" width="11.7" height="20.3" fill="#F7F7F7" stroke="#777" stroke-width="0.4"/>
<text font-size="7.70" transform="translate(70.0 385.8) scale(0.717 1)">64.21 ~ 129.83</text>
<rect x="111.0" y="291.7" width="11.7" height="20.3" fill="#FDDBC7" stroke="#777" stroke-width="0.4"/>
<text font-size="7.70" transform="translate(126.0 304.6) scale(0.717 1)">129.83 ~ 185.55</text>
<rect x="111.0" y="312.0" width="11.7" height="20.3" fill="#F4A582" stroke="#777" stroke-width="0.4"/>
<text font-size="7.70" transform="translate(126.0 324.9) scale(0.717 1)">185.55 ~ 333.18</text>
<rect x="111.0" y="332.3" width="11.7" height="20.3" fill="#D6604D" stroke="#777" stroke-width="0.4"/>
<text font-size="7.70" transform="translate(126.0 345.2) scale(0.717 1)">333.18 ~ 700.18</text>
<rect x="111.0" y="352.6" width="11.7" height="20.3" fill="#B2182B" stroke="#777" stroke-width="0.4"/>
<text font-size="7.70" transform="translate(126.0 365.5) scale(0.717 1)">700.18 ~ 1723.15</text>
<rect x="111.0" y="372.9" width="11.7" height="20.3" fill="#67001F" stroke="#777" stroke-width="0.4"/>
<text font-size="7.70" transform="translate(126.0 385.8) scale(0.717 1)">1723.15 ~ 50490.75</text>
<text x="0" y="0" font-size="63.7" transform="translate(13.9 57.0) scale(0.37 1)" fill="#111">A</text>
<g stroke="#2b2b2b" stroke-width="0.55" stroke-linejoin="round"><use href="#mB" transform="translate(1096.40 278.00) scale(1.6256 3.0030)"/></g>
<g clip-path="url(#kBcar)" stroke="#333" stroke-width="0.6" stroke-linejoin="round"><use href="#mB" transform="translate(1125.50 824.94) scale(3.7500 9.2149)"/></g>
<rect x="774.5" y="566.0" width="132.0" height="223.0" fill="none" stroke="#555" stroke-width="1"/>
<g clip-path="url(#kBgulf)" stroke="#333" stroke-width="0.6" stroke-linejoin="round"><use href="#mB" transform="translate(372.50 1099.85) scale(12.0000 16.8939)"/></g>
<rect x="906.5" y="566.0" width="132.0" height="223.0" fill="none" stroke="#555" stroke-width="1"/>
<g clip-path="url(#kBbalk)" stroke="#333" stroke-width="0.6" stroke-linejoin="round"><use href="#mB" transform="translate(972.25 1173.06) scale(6.0227 11.2626)"/></g>
<rect x="1038.5" y="566.0" width="132.5" height="223.0" fill="none" stroke="#555" stroke-width="1"/>
<g clip-path="url(#kBsea)" stroke="#333" stroke-width="0.6" stroke-linejoin="round"><use href="#mB" transform="translate(706.60 666.24) scale(4.8000 11.2626)"/></g>
<rect x="1171.0" y="566.0" width="132.0" height="223.0" fill="none" stroke="#555" stroke-width="1"/>
<g clip-path="url(#kBwaf)" stroke="#333" stroke-width="0.6" stroke-linejoin="round"><use href="#mB" transform="translate(1408.32 709.97) scale(6.0182 6.9720)"/></g>
<rect x="1303.0" y="566.0" width="66.2" height="99.7" fill="none" stroke="#555" stroke-width="1"/>
<g clip-path="url(#kBmed)" stroke="#333" stroke-width="0.6" stroke-linejoin="round"><use href="#mB" transform="translate(992.24 1099.24) scale(11.8727 15.1061)"/></g>
<rect x="1369.2" y="566.0" width="65.3" height="99.7" fill="none" stroke="#555" stroke-width="1"/>
<g clip-path="url(#kBneu)" stroke="#333" stroke-width="0.6" stroke-linejoin="round"><use href="#mB" transform="translate(1279.09 1149.89) scale(5.9773 7.6136)"/></g>
<rect x="1303.0" y="688.5" width="131.5" height="100.5" fill="none" stroke="#555" stroke-width="1"/>
<text font-size="14.00" transform="translate(774.5 553.0) scale(0.619 1)">Caribbean and central America</text>
<text font-size="14.00" transform="translate(906.5 553.0) scale(0.619 1)">Persian Gulf</text>
<text font-size="14.00" transform="translate(1038.5 553.0) scale(0.619 1)">Balkan Peninsula</text>
<text font-size="14.00" transform="translate(1171.0 553.0) scale(0.619 1)">Sotheast Asia</text>
<text font-size="10.12" transform="translate(1303.0 550.0) scale(0.657 1)">West Africa</text>
<text font-size="10.12" transform="translate(1369.2 550.5) scale(0.644 1)">Eastern</text>
<text font-size="10.12" transform="translate(1369.2 562.6) scale(0.644 1)">Mediterranean</text>
<text font-size="14.00" transform="translate(1303.5 684.0) scale(0.619 1)">Northern Europe</text>
<text font-size="9.30" transform="translate(817.0 283.8) scale(0.560 1)">Deaths</text>
<rect x="817.0" y="291.1" width="11.2" height="20.7" fill="#2166AC" stroke="#777" stroke-width="0.4"/>
<text font-size="10.20" transform="translate(832.0 305.1) scale(0.510 1)">0.52 ~ 0.89</text>
<rect x="817.0" y="311.8" width="11.2" height="20.7" fill="#4393C3" stroke="#777" stroke-width="0.4"/>
<text font-size="10.20" transform="translate(832.0 325.8) scale(0.510 1)">0.89 ~ 1.31</text>
<rect x="817.0" y="332.5" width="11.2" height="20.7" fill="#92C5DE" stroke="#777" stroke-width="0.4"/>
<text font-size="10.20" transform="translate(832.0 346.5) scale(0.510 1)">1.31 ~ 1.59</text>
<rect x="817.0" y="353.2" width="11.2" height="20.7" fill="#D1E5F0" stroke="#777" stroke-width="0.4"/>
<text font-size="10.20" transform="translate(832.0 367.2) scale(0.510 1)">1.59 ~ 1.81</text>
<rect x="817.0" y="373.9" width="11.2" height="20.7" fill="#F7F7F7" stroke="#777" stroke-width="0.4"/>
<text font-size="10.20" transform="translate(832.0 387.9) scale(0.510 1)">1.81 ~ 2.07</text>
<rect x="862.7" y="291.1" width="11.2" height="20.7" fill="#FDDBC7" stroke="#777" stroke-width="0.4"/>
<text font-size="10.20" transform="translate(877.7 305.1) scale(0.510 1)">2.07 ~ 2.37</text>
<rect x="862.7" y="311.8" width="11.2" height="20.7" fill="#F4A582" stroke="#777" stroke-width="0.4"/>
<text font-size="10.20" transform="translate(877.7 325.8) scale(0.510 1)">2.37 ~ 2.59</text>
<rect x="862.7" y="332.5" width="11.2" height="20.7" fill="#D6604D" stroke="#777" stroke-width="0.4"/>
<text font-size="10.20" transform="translate(877.7 346.5) scale(0.510 1)">2.59 ~ 2.94</text>
<rect x="862.7" y="353.2" width="11.2" height="20.7" fill="#B2182B" stroke="#777" stroke-width="0.4"/>
<text font-size="10.20" transform="translate(877.7 367.2) scale(0.510 1)">2.94 ~ 3.42</text>
<rect x="862.7" y="373.9" width="11.2" height="20.7" fill="#67001F" stroke="#777" stroke-width="0.4"/>
<text font-size="10.20" transform="translate(877.7 387.9) scale(0.510 1)">3.42 ~ 5.24</text>
<text x="0" y="0" font-size="63.7" transform="translate(769.4 56.5) scale(0.37 1)" fill="#111">B</text>
<g stroke="#2b2b2b" stroke-width="0.55" stroke-linejoin="round"><use href="#mC" transform="translate(350.50 1185.20) scale(1.7440 3.4000)"/></g>
<g clip-path="url(#kCcar)" stroke="#333" stroke-width="0.6" stroke-linejoin="round"><use href="#mC" transform="translate(381.26 1804.61) scale(4.0199 10.4132)"/></g>
<rect x="5.0" y="1512.0" width="141.5" height="252.0" fill="none" stroke="#555" stroke-width="1"/>
<g clip-path="url(#kCgulf)" stroke="#333" stroke-width="0.6" stroke-linejoin="round"><use href="#mC" transform="translate(-427.95 2115.27) scale(12.9091 19.0909)"/></g>
<rect x="146.5" y="1512.0" width="142.0" height="252.0" fill="none" stroke="#555" stroke-width="1"/>
<g clip-path="url(#kCbalk)" stroke="#333" stroke-width="0.6" stroke-linejoin="round"><use href="#mC" transform="translate(217.50 2198.00) scale(6.4545 12.7273)"/></g>
<rect x="288.5" y="1512.0" width="142.0" height="252.0" fill="none" stroke="#555" stroke-width="1"/>
<g clip-path="url(#kCsea)" stroke="#333" stroke-width="0.6" stroke-linejoin="round"><use href="#mC" transform="translate(-69.08 1625.27) scale(5.1636 12.7273)"/></g>
<rect x="430.5" y="1512.0" width="142.0" height="252.0" fill="none" stroke="#555" stroke-width="1"/>
<g clip-path="url(#kCwaf)" stroke="#333" stroke-width="0.6" stroke-linejoin="round"><use href="#mC" transform="translate(685.45 1675.18) scale(6.4545 7.9021)"/></g>
<rect x="572.5" y="1512.0" width="71.0" height="113.0" fill="none" stroke="#555" stroke-width="1"/>
<g clip-path="url(#kCmed)" stroke="#333" stroke-width="0.6" stroke-linejoin="round"><use href="#mC" transform="translate(230.75 2116.38) scale(13.0000 17.1212)"/></g>
<rect x="643.5" y="1512.0" width="71.5" height="113.0" fill="none" stroke="#555" stroke-width="1"/>
<g clip-path="url(#kCneu)" stroke="#333" stroke-width="0.6" stroke-linejoin="round"><use href="#mC" transform="translate(546.59 2175.16) scale(6.4773 8.6742)"/></g>
<rect x="572.5" y="1649.5" width="142.5" height="114.5" fill="none" stroke="#555" stroke-width="1"/>
<text font-size="15.50" transform="translate(5.0 1497.0) scale(0.601 1)">Caribbean and central America</text>
<text font-size="15.50" transform="translate(146.5 1497.0) scale(0.601 1)">Persian Gulf</text>
<text font-size="15.50" transform="translate(288.5 1497.0) scale(0.601 1)">Balkan Peninsula</text>
<text font-size="15.50" transform="translate(430.5 1497.0) scale(0.601 1)">Sotheast Asia</text>
<text font-size="11.21" transform="translate(572.5 1494.0) scale(0.637 1)">West Africa</text>
<text font-size="11.21" transform="translate(643.5 1494.5) scale(0.625 1)">Eastern</text>
<text font-size="11.21" transform="translate(643.5 1507.9) scale(0.625 1)">Mediterranean</text>
<text font-size="15.50" transform="translate(573.0 1645.0) scale(0.601 1)">Northern Europe</text>
<text font-size="10.30" transform="translate(25.6 1192.5) scale(0.540 1)">DALYs (Disability−Adjusted Life Years)</text>
<rect x="25.6" y="1200.6" width="11.9" height="23.5" fill="#2166AC" stroke="#777" stroke-width="0.4"/>
<text font-size="11.30" transform="translate(41.7 1216.4) scale(0.507 1)">1.08 ~ 88.96</text>
<rect x="25.6" y="1224.1" width="11.9" height="23.5" fill="#4393C3" stroke="#777" stroke-width="0.4"/>
<text font-size="11.30" transform="translate(41.7 1239.9) scale(0.507 1)">88.96 ~ 335.99</text>
<rect x="25.6" y="1247.6" width="11.9" height="23.5" fill="#92C5DE" stroke="#777" stroke-width="0.4"/>
<text font-size="11.30" transform="translate(41.7 1263.4) scale(0.507 1)">335.99 ~ 897.89</text>
<rect x="25.6" y="1271.1" width="11.9" height="23.5" fill="#D1E5F0" stroke="#777" stroke-width="0.4"/>
<text font-size="11.30" transform="translate(41.7 1286.9) scale(0.507 1)">897.89 ~ 1794.11</text>
<rect x="25.6" y="1294.6" width="11.9" height="23.5" fill="#F7F7F7" stroke="#777" stroke-width="0.4"/>
<text font-size="11.30" transform="translate(41.7 1310.4) scale(0.507 1)">1794.11 ~ 3158.77</text>
<rect x="93.5" y="1200.6" width="11.9" height="23.5" fill="#FDDBC7" stroke="#777" stroke-width="0.4"/>
<text font-size="11.30" transform="translate(109.6 1216.4) scale(0.507 1)">3158.77 ~ 4591.85</text>
<rect x="93.5" y="1224.1" width="11.9" height="23.5" fill="#F4A582" stroke="#777" stroke-width="0.4"/>
<text font-size="11.30" transform="translate(109.6 1239.9) scale(0.507 1)">4591.85 ~ 7442.92</text>
<rect x="93.5" y="1247.6" width="11.9" height="23.5" fill="#D6604D" stroke="#777" stroke-width="0.4"/>
<text font-size="11.30" transform="translate(109.6 1263.4) scale(0.507 1)">7442.92 ~ 15204.03</text>
<rect x="93.5" y="1271.1" width="11.9" height="23.5" fill="#B2182B" stroke="#777" stroke-width="0.4"/>
<text font-size="11.30" transform="translate(109.6 1286.9) scale(0.507 1)">15204.03 ~ 39707.91</text>
<rect x="93.5" y="1294.6" width="11.9" height="23.5" fill="#67001F" stroke="#777" stroke-width="0.4"/>
<text font-size="11.30" transform="translate(109.6 1310.4) scale(0.507 1)">39707.91 ~ 1254347.03</text>
<text x="0" y="0" font-size="63.7" transform="translate(19.5 875.7) scale(0.37 1)" fill="#111">C</text>
<g stroke="#2b2b2b" stroke-width="0.55" stroke-linejoin="round"><use href="#mD" transform="translate(1089.50 1185.20) scale(1.6190 3.4000)"/></g>
<g clip-path="url(#kDcar)" stroke="#333" stroke-width="0.6" stroke-linejoin="round"><use href="#mD" transform="translate(1117.50 1804.61) scale(3.7500 10.4132)"/></g>
<rect x="766.5" y="1512.0" width="132.0" height="252.0" fill="none" stroke="#555" stroke-width="1"/>
<g clip-path="url(#kDgulf)" stroke="#333" stroke-width="0.6" stroke-linejoin="round"><use href="#mD" transform="translate(362.48 2115.27) scale(12.0455 19.0909)"/></g>
<rect x="898.5" y="1512.0" width="132.5" height="252.0" fill="none" stroke="#555" stroke-width="1"/>
<g clip-path="url(#kDbalk)" stroke="#333" stroke-width="0.6" stroke-linejoin="round"><use href="#mD" transform="translate(965.00 2198.00) scale(6.0000 12.7273)"/></g>
<rect x="1031.0" y="1512.0" width="132.0" height="252.0" fill="none" stroke="#555" stroke-width="1"/>
<g clip-path="url(#kDsea)" stroke="#333" stroke-width="0.6" stroke-linejoin="round"><use href="#mD" transform="translate(698.60 1625.27) scale(4.8000 12.7273)"/></g>
<rect x="1163.0" y="1512.0" width="132.0" height="252.0" fill="none" stroke="#555" stroke-width="1"/>
<g clip-path="url(#kDwaf)" stroke="#333" stroke-width="0.6" stroke-linejoin="round"><use href="#mD" transform="translate(1400.00 1675.18) scale(6.0000 7.9021)"/></g>
<rect x="1295.0" y="1512.0" width="66.0" height="113.0" fill="none" stroke="#555" stroke-width="1"/>
<g clip-path="url(#kDmed)" stroke="#333" stroke-width="0.6" stroke-linejoin="round"><use href="#mD" transform="translate(980.00 2116.38) scale(12.0000 17.1212)"/></g>
<rect x="1361.0" y="1512.0" width="66.0" height="113.0" fill="none" stroke="#555" stroke-width="1"/>
<g clip-path="url(#kDneu)" stroke="#333" stroke-width="0.6" stroke-linejoin="round"><use href="#mD" transform="translate(1271.00 2175.16) scale(6.0000 8.6742)"/></g>
<rect x="1295.0" y="1649.5" width="132.0" height="114.5" fill="none" stroke="#555" stroke-width="1"/>
<text font-size="15.50" transform="translate(766.5 1497.0) scale(0.557 1)">Caribbean and central America</text>
<text font-size="15.50" transform="translate(898.5 1497.0) scale(0.557 1)">Persian Gulf</text>
<text font-size="15.50" transform="translate(1031.0 1497.0) scale(0.557 1)">Balkan Peninsula</text>
<text font-size="15.50" transform="translate(1163.0 1497.0) scale(0.557 1)">Sotheast Asia</text>
<text font-size="11.21" transform="translate(1295.0 1494.0) scale(0.590 1)">West Africa</text>
<text font-size="11.21" transform="translate(1361.0 1494.5) scale(0.579 1)">Eastern</text>
<text font-size="11.21" transform="translate(1361.0 1507.9) scale(0.579 1)">Mediterranean</text>
<text font-size="15.50" transform="translate(1295.5 1645.0) scale(0.557 1)">Northern Europe</text>
<text font-size="10.70" transform="translate(801.7 1192.8) scale(0.485 1)">DALYs (Disability−Adjusted Life Years)</text>
<rect x="801.7" y="1200.6" width="11.6" height="23.4" fill="#2166AC" stroke="#777" stroke-width="0.4"/>
<text font-size="11.60" transform="translate(816.9 1216.5) scale(0.450 1)">12.19 ~ 23.49</text>
<rect x="801.7" y="1224.0" width="11.6" height="23.4" fill="#4393C3" stroke="#777" stroke-width="0.4"/>
<text font-size="11.60" transform="translate(816.9 1239.9) scale(0.450 1)">23.49 ~ 29.81</text>
<rect x="801.7" y="1247.4" width="11.6" height="23.4" fill="#92C5DE" stroke="#777" stroke-width="0.4"/>
<text font-size="11.60" transform="translate(816.9 1263.3) scale(0.450 1)">29.81 ~ 37.88</text>
<rect x="801.7" y="1270.8" width="11.6" height="23.4" fill="#D1E5F0" stroke="#777" stroke-width="0.4"/>
<text font-size="11.60" transform="translate(816.9 1286.7) scale(0.450 1)">37.88 ~ 42.60</text>
<rect x="801.7" y="1294.2" width="11.6" height="23.4" fill="#F7F7F7" stroke="#777" stroke-width="0.4"/>
<text font-size="11.60" transform="translate(816.9 1310.1) scale(0.450 1)">42.60 ~ 46.65</text>
<rect x="853.3" y="1200.6" width="11.6" height="23.4" fill="#FDDBC7" stroke="#777" stroke-width="0.4"/>
<text font-size="11.60" transform="translate(868.5 1216.5) scale(0.450 1)">46.65 ~ 54.49</text>
<rect x="853.3" y="1224.0" width="11.6" height="23.4" fill="#F4A582" stroke="#777" stroke-width="0.4"/>
<text font-size="11.60" transform="translate(868.5 1239.9) scale(0.450 1)">54.49 ~ 59.62</text>
<rect x="853.3" y="1247.4" width="11.6" height="23.4" fill="#D6604D" stroke="#777" stroke-width="0.4"/>
<text font-size="11.60" transform="translate(868.5 1263.3) scale(0.450 1)">59.62 ~ 66.06</text>
<rect x="853.3" y="1270.8" width="11.6" height="23.4" fill="#B2182B" stroke="#777" stroke-width="0.4"/>
<text font-size="11.60" transform="translate(868.5 1286.7) scale(0.450 1)">66.06 ~ 78.14</text>
<rect x="853.3" y="1294.2" width="11.6" height="23.4" fill="#67001F" stroke="#777" stroke-width="0.4"/>
<text font-size="11.60" transform="translate(868.5 1310.1) scale(0.450 1)">78.14 ~ 114.90</text>
<text x="0" y="0" font-size="63.7" transform="translate(784.4 876.3) scale(0.37 1)" fill="#111">D</text>
</svg></body></html>
